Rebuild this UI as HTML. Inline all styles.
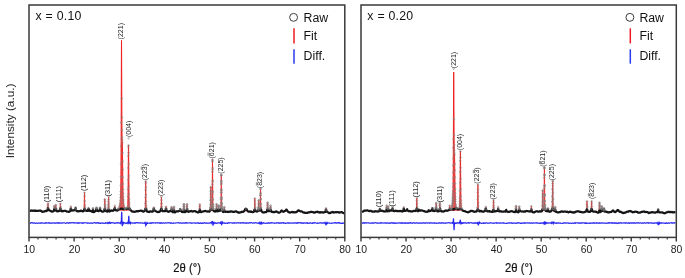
<!DOCTYPE html>
<html><head><meta charset="utf-8"><style>
html,body{margin:0;padding:0;background:#fff;}
body{width:685px;height:278px;overflow:hidden;}
svg{display:block;font-family:"Liberation Sans", sans-serif;will-change:transform;}
</style></head><body>
<svg width="685" height="278" viewBox="0 0 685 278" fill="#222">
<clipPath id="c1"><rect x="29.8" y="5.8" width="314.2" height="230.8"/></clipPath>
<g clip-path="url(#c1)">
<polyline points="47.42,210.5 47.48,210.3 47.54,210.1 47.60,209.7 47.66,209.0 47.72,208.2 47.78,207.1 47.84,205.8 47.90,204.4 47.96,203.5 48.02,203.3 48.08,204.1 48.14,205.3 48.20,206.7 48.26,207.9 48.32,208.8 48.38,209.5 48.44,209.9 48.50,210.2 48.56,210.4" fill="#f04a4a" stroke="#ee2020" stroke-width="0.85"/>
<polyline points="53.84,210.4 53.90,210.1 53.96,209.7 54.02,209.1 54.08,208.3 54.14,207.4 54.20,206.5 54.26,205.9 54.32,205.8 54.38,206.2 54.44,207.1 54.50,208.0 54.56,208.8 54.62,209.4 54.68,209.9 54.74,210.2 54.80,210.4 54.86,210.5" fill="#f04a4a" stroke="#ee2020" stroke-width="0.85"/>
<polyline points="55.22,210.5 55.28,210.4 55.34,210.2 55.40,209.9 55.46,209.5 55.52,208.8 55.58,208.0 55.64,207.0 55.70,206.0 55.76,205.3 55.82,205.2 55.88,205.7 55.94,206.7 56.00,207.7 56.06,208.6 56.12,209.3 56.18,209.8 56.24,210.2 56.30,210.4" fill="#f04a4a" stroke="#ee2020" stroke-width="0.85"/>
<polyline points="59.84,210.5 59.90,210.3 59.96,210.0 60.02,209.5 60.08,208.8 60.14,207.9 60.20,206.7 60.26,205.3 60.32,204.1 60.38,203.3 60.44,203.5 60.50,204.4 60.56,205.8 60.62,207.1 60.68,208.2 60.74,209.1 60.80,209.7 60.86,210.1 60.92,210.4 60.98,210.5" fill="#f04a4a" stroke="#ee2020" stroke-width="0.85"/>
<polyline points="70.34,210.6 70.40,210.3 70.46,210.0 70.52,209.5 70.58,208.8 70.64,208.0 70.70,207.3 70.76,206.7 70.82,206.6 70.88,207.0 70.94,207.8 71.00,208.6 71.06,209.3 71.12,209.8 71.18,210.2 71.24,210.5" fill="#f04a4a" stroke="#ee2020" stroke-width="0.85"/>
<polyline points="75.20,210.5 75.26,210.2 75.32,209.8 75.38,209.2 75.44,208.6 75.50,207.9 75.56,207.5 75.62,207.4 75.68,207.8 75.74,208.4 75.80,209.0 75.86,209.6 75.92,210.1 75.98,210.4" fill="#f04a4a" stroke="#ee2020" stroke-width="0.85"/>
<polyline points="83.60,210.6 83.66,210.5 83.72,210.4 83.78,210.3 83.84,210.1 83.90,209.9 83.96,209.5 84.02,209.0 84.08,208.2 84.14,206.9 84.20,205.0 84.26,202.5 84.32,199.5 84.38,196.2 84.44,193.5 84.50,192.4 84.56,193.5 84.62,196.2 84.68,199.5 84.74,202.5 84.80,205.0 84.86,206.9 84.92,208.2 84.98,209.0 85.04,209.5 85.10,209.9 85.16,210.1 85.22,210.3 85.28,210.4 85.34,210.5 85.40,210.6" fill="#f04a4a" stroke="#ee2020" stroke-width="0.85"/>
<polyline points="88.22,210.5 88.28,210.3 88.34,209.9 88.40,209.4 88.46,208.8 88.52,208.3 88.58,208.0 88.64,208.0 88.70,208.4 88.76,209.0 88.82,209.5 88.88,210.0 88.94,210.4 89.00,210.6" fill="#f04a4a" stroke="#ee2020" stroke-width="0.85"/>
<polyline points="92.66,210.5 92.72,210.2 92.78,209.8 92.84,209.4 92.90,208.9 92.96,208.5 93.02,208.5 93.08,208.8 93.14,209.2 93.20,209.7 93.26,210.1 93.32,210.4" fill="#f04a4a" stroke="#ee2020" stroke-width="0.85"/>
<polyline points="96.14,210.5 96.20,210.2 96.26,209.8 96.32,209.3 96.38,208.8 96.44,208.4 96.50,208.2 96.56,208.4 96.62,208.8 96.68,209.3 96.74,209.8 96.80,210.2 96.86,210.5" fill="#f04a4a" stroke="#ee2020" stroke-width="0.85"/>
<polyline points="99.62,210.5 99.68,210.2 99.74,209.8 99.80,209.2 99.86,208.6 99.92,208.0 99.98,207.7 100.04,207.8 100.10,208.2 100.16,208.8 100.22,209.4 100.28,209.9 100.34,210.3 100.40,210.6" fill="#f04a4a" stroke="#ee2020" stroke-width="0.85"/>
<polyline points="104.06,210.7 104.12,210.6 104.18,210.5 104.24,210.3 104.30,209.9 104.36,209.5 104.42,208.7 104.48,207.6 104.54,206.1 104.60,204.2 104.66,202.1 104.72,200.1 104.78,198.9 104.84,199.2 104.90,200.7 104.96,202.8 105.02,204.9 105.08,206.7 105.14,208.0 105.20,209.0 105.26,209.6 105.32,210.1 105.38,210.3 105.44,210.5 105.50,210.6 105.56,210.7" fill="#f04a4a" stroke="#ee2020" stroke-width="0.85"/>
<polyline points="107.78,210.7 107.84,210.6 107.90,210.5 107.96,210.4 108.02,210.2 108.08,209.9 108.14,209.4 108.20,208.6 108.26,207.5 108.32,205.9 108.38,203.8 108.44,201.3 108.50,198.8 108.56,197.1 108.62,196.8 108.68,198.1 108.74,200.5 108.80,203.0 108.86,205.2 108.92,207.0 108.98,208.3 109.04,209.2 109.10,209.7 109.16,210.1 109.22,210.3 109.28,210.5 109.34,210.6 109.40,210.7" fill="#f04a4a" stroke="#ee2020" stroke-width="0.85"/>
<polyline points="109.52,210.7 109.58,210.7" fill="#f04a4a" stroke="#ee2020" stroke-width="0.85"/>
<polyline points="113.78,210.7 113.84,210.7 113.90,210.7 113.96,210.6 114.02,210.6 114.08,210.5 114.14,210.4 114.20,210.3 114.26,210.1 114.32,209.8 114.38,209.4 114.44,208.8 114.50,208.0 114.56,207.1 114.62,206.3 114.68,205.9 114.74,206.0 114.80,206.5 114.86,207.4 114.92,208.2 114.98,208.9 115.04,209.4 115.10,209.8 115.16,210.1 115.22,210.2 115.28,210.3 115.34,210.4 115.40,210.4 115.46,210.4 115.52,210.4 115.58,210.5 115.64,210.5 115.70,210.5 115.76,210.5 115.82,210.5 115.88,210.5 115.94,210.5 116.00,210.4 116.06,210.4 116.12,210.4 116.18,210.4 116.24,210.4 116.30,210.4 116.36,210.4 116.42,210.4 116.48,210.3 116.54,210.3 116.60,210.3 116.66,210.3 116.72,210.2 116.78,210.2 116.84,210.2 116.90,210.2 116.96,210.1 117.02,210.1 117.08,210.1 117.14,210.1 117.20,210.0 117.50,209.9 117.80,209.6 118.10,209.4 118.40,209.1 118.70,208.7 119.00,208.1 119.06,208.0 119.12,207.9 119.18,207.7 119.24,207.6 119.30,207.4 119.36,207.2 119.42,207.1 119.48,206.9 119.54,206.6 119.60,206.4 119.66,206.2 119.72,205.9 119.78,205.6 119.84,205.3 119.90,205.0 119.96,204.6 120.02,204.2 120.08,203.7 120.14,203.2 120.20,202.7 120.26,202.0 120.32,201.3 120.38,200.5 120.44,199.6 120.50,198.4 120.56,197.1 120.62,195.4 120.68,193.2 120.74,190.3 120.80,186.5 120.86,181.4 120.92,174.7 120.98,166.0 121.04,155.0 121.10,141.5 121.16,125.6 121.22,107.6 121.28,88.4 121.34,69.6 121.40,53.6 121.46,43.1 121.52,40.3 121.58,45.7 121.64,57.3 121.70,72.4 121.76,88.2 121.82,102.9 121.88,115.4 121.94,125.1 122.00,132.0 122.06,136.4 122.12,138.8 122.18,139.9 122.24,140.5 122.30,141.3 122.36,143.0 122.42,145.9 122.48,149.9 122.54,154.8 122.60,160.2 122.66,165.7 122.72,171.1 122.78,176.2 122.84,180.9 122.90,185.1 122.96,188.7 123.02,191.8 123.08,194.4 123.14,196.5 123.20,198.3 123.26,199.8 123.32,201.0 123.38,202.0 123.44,202.8 123.50,203.5 123.56,204.0 123.62,204.5 123.68,204.9 123.74,205.3 123.80,205.7 123.86,206.0 123.92,206.2 123.98,206.5 124.04,206.7 124.34,207.6 124.64,208.3 124.94,208.7 125.24,209.0 125.54,209.2 125.84,209.4 126.14,209.4 126.20,209.4 126.26,209.4 126.32,209.4 126.38,209.4 126.44,209.4 126.50,209.4 126.56,209.4 126.62,209.3 126.68,209.3 126.74,209.2 126.80,209.2 126.86,209.1 126.92,209.0 126.98,209.0 127.04,208.9 127.10,208.7 127.16,208.6 127.22,208.5 127.28,208.3 127.34,208.1 127.40,207.8 127.46,207.5 127.52,207.2 127.58,206.7 127.64,206.2 127.70,205.4 127.76,204.5 127.82,203.1 127.88,201.2 127.94,198.7 128.00,195.2 128.06,190.8 128.12,185.1 128.18,178.4 128.24,170.7 128.30,162.5 128.36,154.6 128.42,148.3 128.48,145.0 128.54,145.7 128.60,150.2 128.66,157.2 128.72,165.3 128.78,173.4 128.84,180.9 128.90,187.3 128.96,192.5 129.02,196.7 129.08,199.8 129.14,202.1 129.20,203.8 129.26,205.1 129.32,206.0 129.38,206.7 129.44,207.2 129.50,207.7 129.56,208.0 129.62,208.3 129.68,208.6 129.74,208.8 129.80,209.0 129.86,209.2 129.92,209.3 129.98,209.4 130.04,209.6 130.10,209.7 130.16,209.8 130.22,209.9 130.28,209.9 130.34,210.0 130.40,210.1 130.46,210.1 130.52,210.2 130.58,210.3 130.64,210.3 130.70,210.4 130.76,210.4 130.82,210.4 130.88,210.5 130.94,210.5 131.00,210.5 131.30,210.7 131.60,210.8" fill="#f04a4a" stroke="#ee2020" stroke-width="1.00"/>
<polyline points="144.56,210.8 144.62,210.8 144.68,210.7 144.74,210.6 144.80,210.5 144.86,210.4 144.92,210.2 144.98,210.0 145.04,209.7 145.10,209.3 145.16,208.7 145.22,207.9 145.28,206.5 145.34,204.4 145.40,201.4 145.46,197.4 145.52,192.5 145.58,187.2 145.64,182.8 145.70,181.0 145.76,182.8 145.82,187.2 145.88,192.5 145.94,197.4 146.00,201.4 146.06,204.4 146.12,206.5 146.18,207.9 146.24,208.7 146.30,209.3 146.36,209.7 146.42,210.0 146.48,210.2 146.54,210.4 146.60,210.5 146.66,210.6 146.72,210.7 146.78,210.8 146.84,210.9" fill="#f04a4a" stroke="#ee2020" stroke-width="0.85"/>
<polyline points="153.38,210.8 153.44,210.6 153.50,210.2 153.56,209.6 153.62,209.0 153.68,208.3 153.74,207.7 153.80,207.5 153.86,207.7 153.92,208.3 153.98,209.0 154.04,209.6 154.10,210.2 154.16,210.6 154.22,210.8" fill="#f04a4a" stroke="#ee2020" stroke-width="0.85"/>
<polyline points="160.64,210.9 160.70,210.8 160.76,210.6 160.82,210.4 160.88,210.1 160.94,209.6 161.00,208.8 161.06,207.7 161.12,206.1 161.18,204.0 161.24,201.5 161.30,199.0 161.36,197.2 161.42,196.9 161.48,198.3 161.54,200.6 161.60,203.2 161.66,205.4 161.72,207.2 161.78,208.5 161.84,209.4 161.90,210.0 161.96,210.3 162.02,210.6 162.08,210.7 162.14,210.8 162.20,210.9" fill="#f04a4a" stroke="#ee2020" stroke-width="0.85"/>
<polyline points="165.56,210.8 165.62,210.5 165.68,210.0 165.74,209.4 165.80,208.6 165.86,207.7 165.92,206.9 165.98,206.4 166.04,206.5 166.10,207.1 166.16,208.0 166.22,208.9 166.28,209.6 166.34,210.2 166.40,210.6 166.46,210.9" fill="#f04a4a" stroke="#ee2020" stroke-width="0.85"/>
<polyline points="171.14,211.0 171.20,210.7 171.26,210.4 171.32,209.9 171.38,209.2 171.44,208.4 171.50,207.7 171.56,207.1 171.62,207.0 171.68,207.4 171.74,208.2 171.80,209.0 171.86,209.7 171.92,210.2 171.98,210.6 172.04,210.9" fill="#f04a4a" stroke="#ee2020" stroke-width="0.85"/>
<polyline points="173.54,211.0 173.60,210.8 173.66,210.4 173.72,209.9 173.78,209.3 173.84,208.6 173.90,207.8 173.96,207.3 174.02,207.2 174.08,207.6 174.14,208.3 174.20,209.1 174.26,209.8 174.32,210.3 174.38,210.7 174.44,210.9" fill="#f04a4a" stroke="#ee2020" stroke-width="0.85"/>
<polyline points="179.96,211.0 180.02,210.8 180.08,210.5 180.14,210.1 180.20,209.7 180.26,209.4 180.32,209.4 180.38,209.6 180.44,210.0 180.50,210.3 180.56,210.7 180.62,210.9" fill="#f04a4a" stroke="#ee2020" stroke-width="0.85"/>
<polyline points="183.38,210.9 183.44,210.7 183.50,210.3 183.56,209.7 183.62,208.9 183.68,207.9 183.74,206.7 183.80,205.4 183.86,204.6 183.92,204.4 183.98,205.1 184.04,206.2 184.10,207.5 184.16,208.6 184.22,209.5 184.28,210.1 184.34,210.6 184.40,210.8 184.46,211.0" fill="#f04a4a" stroke="#ee2020" stroke-width="0.85"/>
<polyline points="186.44,211.0 186.50,210.8 186.56,210.6 186.62,210.1 186.68,209.5 186.74,208.6 186.80,207.5 186.86,206.3 186.92,205.1 186.98,204.4 187.04,204.6 187.10,205.5 187.16,206.7 187.22,207.9 187.28,209.0 187.34,209.7 187.40,210.3 187.46,210.7 187.52,210.9" fill="#f04a4a" stroke="#ee2020" stroke-width="0.85"/>
<polyline points="199.28,211.0 199.34,210.7 199.40,210.3 199.46,209.7 199.52,208.9 199.58,207.8 199.64,206.6 199.70,205.3 199.76,204.4 199.82,204.2 199.88,204.9 199.94,206.1 200.00,207.4 200.06,208.6 200.12,209.5 200.18,210.2 200.24,210.6 200.30,210.9 200.36,211.1" fill="#f04a4a" stroke="#ee2020" stroke-width="0.85"/>
<polyline points="209.54,211.1 209.60,211.1 209.66,211.0 209.72,210.9 209.78,210.9 209.84,210.8 209.90,210.7 209.96,210.6 210.02,210.4 210.08,210.2 210.14,210.0 210.20,209.7 210.26,209.2 210.32,208.5 210.38,207.4 210.44,205.7 210.50,203.3 210.56,200.1 210.62,196.1 210.68,191.9 210.74,188.3 210.80,186.9 210.86,188.2 210.92,191.7 210.98,195.8 211.04,199.7 211.10,202.9 211.16,205.2 211.22,206.7 211.28,207.7 211.34,208.3 211.40,208.6 211.46,208.8 211.52,208.8 211.58,208.8 211.64,208.6 211.70,208.4 211.76,208.1 211.82,207.6 211.88,206.9 211.94,205.8 212.00,204.2 212.06,201.8 212.12,198.2 212.18,193.2 212.24,186.8 212.30,179.0 212.36,170.8 212.42,163.5 212.48,159.4 212.54,160.3 212.60,165.7 212.66,173.6 212.72,181.8 212.78,189.2 212.84,195.2 212.90,199.7 212.96,203.0 213.02,205.2 213.08,206.6 213.14,207.6 213.20,208.3 213.26,208.8 213.32,209.2 213.38,209.5 213.44,209.7 213.50,210.0 213.56,210.1 213.62,210.3 213.68,210.4 213.74,210.5 213.80,210.6 213.86,210.7 213.92,210.8 213.98,210.9 214.04,210.9 214.10,211.0 214.16,211.0 214.22,211.1 214.28,211.1 214.34,211.1 214.40,211.2" fill="#f04a4a" stroke="#ee2020" stroke-width="0.85"/>
<polyline points="215.90,211.1 215.96,211.1 216.02,211.0 216.08,210.8 216.14,210.6 216.20,210.2 216.26,209.7 216.32,208.9 216.38,207.8 216.44,206.6 216.50,205.4 216.56,204.5 216.62,204.3 216.68,205.0 216.74,206.2 216.80,207.4 216.86,208.5 216.92,209.4 216.98,210.1 217.04,210.5 217.10,210.8 217.16,210.9 217.22,211.0 217.28,211.1" fill="#f04a4a" stroke="#ee2020" stroke-width="0.85"/>
<polyline points="218.06,211.1 218.12,211.1 218.18,210.9 218.24,210.7 218.30,210.4 218.36,210.0 218.42,209.4 218.48,208.5 218.54,207.6 218.60,206.6 218.66,205.9 218.72,205.7 218.78,206.3 218.84,207.2 218.90,208.2 218.96,209.1 219.02,209.8 219.08,210.3 219.14,210.6 219.20,210.8 219.26,210.9 219.32,211.0 219.38,211.1 219.44,211.1 219.50,211.1 219.56,211.1 219.62,211.1 219.68,211.1 219.74,211.1 219.80,211.0 219.86,211.0 219.92,211.0 219.98,210.9 220.04,210.9 220.10,210.8 220.16,210.7 220.22,210.6 220.28,210.5 220.34,210.4 220.40,210.2 220.46,210.0 220.52,209.8 220.58,209.5 220.64,209.0 220.70,208.4 220.76,207.5 220.82,206.2 220.88,204.1 220.94,201.3 221.00,197.3 221.06,192.4 221.12,186.7 221.18,180.8 221.24,176.2 221.30,174.4 221.36,176.2 221.42,180.9 221.48,186.7 221.54,192.4 221.60,197.4 221.66,201.3 221.72,204.2 221.78,206.2 221.84,207.5 221.90,208.5 221.96,209.1 222.02,209.5 222.08,209.8 222.14,210.1 222.20,210.3 222.26,210.4 222.32,210.6 222.38,210.7 222.44,210.8 222.50,210.9 222.56,211.0 222.62,211.0 222.68,211.1 222.74,211.1 222.80,211.2" fill="#f04a4a" stroke="#ee2020" stroke-width="0.85"/>
<polyline points="223.76,211.2 223.82,211.1 223.88,210.9 223.94,210.6 224.00,210.2 224.06,209.7 224.12,209.0 224.18,208.3 224.24,207.7 224.30,207.4 224.36,207.7 224.42,208.3 224.48,209.0 224.54,209.7 224.60,210.3 224.66,210.7 224.72,211.0 224.78,211.2" fill="#f04a4a" stroke="#ee2020" stroke-width="0.85"/>
<polyline points="244.16,211.2 244.22,211.2 244.28,211.1 244.34,211.1 244.40,211.0 244.46,211.0 244.52,210.9 244.58,210.8 244.64,210.8 244.70,210.7 244.76,210.6 244.82,210.5 244.88,210.4 244.94,210.3 245.00,210.2 245.06,210.1 245.12,210.0 245.18,209.9 245.24,209.8 245.30,209.7 245.36,209.6 245.42,209.5 245.48,209.5 245.54,209.4 245.60,209.3 245.66,209.2 245.72,209.1 245.78,209.1 245.84,209.0 245.90,209.0 245.96,209.0 246.02,209.0 246.08,209.0 246.14,209.0 246.20,209.1 246.26,209.1 246.32,209.2 246.38,209.3 246.44,209.3 246.50,209.4 246.56,209.5 246.62,209.6 246.68,209.7 246.74,209.8 246.80,209.9 246.86,210.0 246.92,210.1 246.98,210.2 247.04,210.3 247.10,210.4 247.16,210.5 247.22,210.6 247.28,210.7 247.34,210.7 247.40,210.8 247.46,210.9 247.52,211.0 247.58,211.0 247.64,211.1 247.70,211.1 247.76,211.2 247.82,211.2 247.88,211.3" fill="#f04a4a" stroke="#ee2020" stroke-width="0.85"/>
<polyline points="254.00,211.3 254.06,211.2 254.12,211.1 254.18,211.0 254.24,210.7 254.30,210.4 254.36,209.9 254.42,209.1 254.48,207.9 254.54,206.2 254.60,204.1 254.66,201.8 254.72,199.6 254.78,198.3 254.84,198.6 254.90,200.3 254.96,202.6 255.02,204.9 255.08,206.8 255.14,208.3 255.20,209.4 255.26,210.1 255.32,210.5 255.38,210.8 255.44,211.0 255.50,211.1 255.56,211.2 255.62,211.3" fill="#f04a4a" stroke="#ee2020" stroke-width="0.85"/>
<polyline points="257.90,211.3 257.96,211.3 258.02,211.2 258.08,211.0 258.14,210.9 258.20,210.6 258.26,210.1 258.32,209.4 258.38,208.4 258.44,207.1 258.50,205.3 258.56,203.3 258.62,201.5 258.68,200.5 258.74,200.7 258.80,202.0 258.86,203.9 258.92,205.8 258.98,207.5 259.04,208.7 259.10,209.5 259.16,210.1 259.22,210.4 259.28,210.6 259.34,210.8 259.40,210.8 259.46,210.8 259.52,210.8 259.58,210.8 259.64,210.8 259.70,210.7 259.76,210.6 259.82,210.4 259.88,210.2 259.94,209.8 260.00,209.3 260.06,208.4 260.12,207.0 260.18,205.0 260.24,202.2 260.30,198.6 260.36,194.6 260.42,190.9 260.48,188.7 260.54,189.2 260.60,192.0 260.66,196.0 260.72,199.9 260.78,203.3 260.84,205.8 260.90,207.6 260.96,208.8 261.02,209.6 261.08,210.1 261.14,210.4 261.20,210.7 261.26,210.9 261.32,211.0 261.38,211.1 261.44,211.2 261.50,211.3 261.56,211.4" fill="#f04a4a" stroke="#ee2020" stroke-width="0.85"/>
<polyline points="266.96,211.4 267.02,211.2 267.08,211.0 267.14,210.7 267.20,210.2 267.26,209.5 267.32,208.5 267.38,207.1 267.44,205.5 267.50,204.0 267.56,202.8 267.62,202.6 267.68,203.5 267.74,205.0 267.80,206.6 267.86,208.1 267.92,209.2 267.98,210.0 268.04,210.6 268.10,210.9 268.16,211.2 268.22,211.3" fill="#f04a4a" stroke="#ee2020" stroke-width="0.85"/>
<polyline points="270.02,211.2 270.08,211.0 270.14,210.6 270.20,210.0 270.26,209.2 270.32,208.2 270.38,207.2 270.44,206.3 270.50,206.0 270.56,206.3 270.62,207.2 270.68,208.2 270.74,209.2 270.80,210.0 270.86,210.6 270.92,211.0 270.98,211.3" fill="#f04a4a" stroke="#ee2020" stroke-width="0.85"/>
<polyline points="280.28,211.4 280.34,211.4 280.40,211.3 280.46,211.2 280.52,211.2 280.58,211.1 280.64,211.0 280.70,211.0 280.76,210.9 280.82,210.8 280.88,210.8 280.94,210.7 281.00,210.6 281.06,210.6 281.12,210.5 281.18,210.5 281.24,210.4 281.30,210.4 281.36,210.4 281.42,210.4 281.48,210.4 281.54,210.4 281.60,210.4 281.66,210.5 281.72,210.5 281.78,210.6 281.84,210.7 281.90,210.7 281.96,210.8 282.02,210.9 282.08,210.9 282.14,211.0 282.20,211.1 282.26,211.1 282.32,211.2 282.38,211.3 282.44,211.3 282.50,211.4 282.56,211.4" fill="#f04a4a" stroke="#ee2020" stroke-width="0.85"/>
<polyline points="285.26,211.4 285.32,211.4 285.38,211.3 285.44,211.2 285.50,211.2 285.56,211.1 285.62,211.1 285.68,211.0 285.74,210.9 285.80,210.8 285.86,210.8 285.92,210.7 285.98,210.6 286.04,210.6 286.10,210.5 286.16,210.5 286.22,210.4 286.28,210.4 286.34,210.4 286.40,210.4 286.46,210.4 286.52,210.4 286.58,210.4 286.64,210.5 286.70,210.5 286.76,210.6 286.82,210.6 286.88,210.7 286.94,210.8 287.00,210.9 287.06,210.9 287.12,211.0 287.18,211.1 287.24,211.1 287.30,211.2 287.36,211.3 287.42,211.3 287.48,211.4 287.54,211.4" fill="#f04a4a" stroke="#ee2020" stroke-width="0.85"/>
<polyline points="297.14,211.5 297.20,211.4 297.26,211.4 297.32,211.3 297.38,211.3 297.44,211.2 297.50,211.2 297.56,211.1 297.62,211.1 297.68,211.0 297.74,211.0 297.80,210.9 297.86,210.9 297.92,210.8 297.98,210.7 298.04,210.7 298.10,210.7 298.16,210.6 298.22,210.6 298.28,210.5 298.34,210.5 298.40,210.5 298.46,210.5 298.52,210.5 298.58,210.5 298.64,210.5 298.70,210.5 298.76,210.6 298.82,210.6 298.88,210.6 298.94,210.7 299.00,210.7 299.06,210.8 299.12,210.8 299.18,210.9 299.24,211.0 299.30,211.0 299.36,211.1 299.42,211.1 299.48,211.2 299.54,211.2 299.60,211.3 299.66,211.3 299.72,211.4 299.78,211.4 299.84,211.5" fill="#f04a4a" stroke="#ee2020" stroke-width="0.85"/>
<polyline points="325.58,211.6 325.64,211.3 325.70,210.9 325.76,210.4 325.82,209.7 325.88,209.0 325.94,208.4 326.00,208.2 326.06,208.4 326.12,209.0 326.18,209.7 326.24,210.4 326.30,210.9 326.36,211.3 326.42,211.6" fill="#f04a4a" stroke="#ee2020" stroke-width="0.85"/>
<polyline points="29.00,211.29 29.35,211.15 29.70,210.99 30.05,210.95 30.40,211.00 30.75,210.69 31.10,210.46 31.45,210.70 31.80,210.69 32.15,210.86 32.50,210.59 32.85,210.60 33.20,210.73 33.55,210.56 33.90,210.78 34.25,210.93 34.60,210.62 34.95,210.41 35.30,210.55 35.65,210.90 36.00,210.93 36.35,210.90 36.70,211.00 37.05,210.88 37.40,210.87 37.75,210.94 38.10,210.98 38.45,210.84 38.80,210.70 39.15,210.57 39.50,210.59 39.85,210.54 40.20,210.41 40.55,210.76 40.90,210.95 41.25,211.18 41.60,211.17 41.95,211.58 42.30,211.83 42.65,211.62 43.00,211.53 43.35,211.61 43.70,211.60 44.05,211.65 44.40,211.38 44.75,211.35 45.10,211.23 45.45,210.95 45.80,210.89 46.15,210.99 46.50,211.04 46.85,210.87 47.20,210.68 47.55,209.60 47.90,208.03 48.25,208.18 48.60,210.03 48.95,210.17 49.30,210.33 49.65,210.54 50.00,210.72 50.35,210.76 50.70,210.89 51.05,211.09 51.40,211.42 51.75,211.57 52.10,211.63 52.45,211.70 52.80,211.47 53.15,211.23 53.50,211.24 53.85,210.87 54.20,209.04 54.55,208.88 54.90,210.44 55.25,210.28 55.60,208.67 55.95,208.76 56.30,210.55 56.65,211.15 57.00,211.08 57.35,211.14 57.70,211.38 58.05,211.34 58.40,211.21 58.75,210.97 59.10,210.88 59.45,210.93 59.80,210.24 60.15,208.45 60.50,208.58 60.85,210.15 61.20,210.99 61.55,211.26 61.90,211.28 62.25,211.29 62.60,211.21 62.95,210.93 63.30,211.10 63.65,211.05 64.00,210.81 64.35,210.78 64.70,210.77 65.05,210.74 65.40,210.77 65.75,210.96 66.10,211.21 66.45,211.45 66.80,211.59 67.15,211.50 67.50,211.53 67.85,211.50 68.20,211.63 68.55,211.80 68.90,211.83 69.25,211.77 69.60,211.67 69.95,211.23 70.30,210.90 70.65,208.81 71.00,208.46 71.35,210.27 71.70,210.31 72.05,210.60 72.40,210.54 72.75,210.41 73.10,210.54 73.45,210.48 73.80,210.28 74.15,210.16 74.50,210.25 74.85,210.10 75.20,209.64 75.55,208.16 75.90,209.56 76.25,210.69 76.60,211.02 76.95,211.01 77.30,211.18 77.65,211.30 78.00,211.24 78.35,211.10 78.70,211.34 79.05,211.28 79.40,211.06 79.75,211.07 80.10,211.18 80.45,210.90 80.80,210.72 81.15,210.69 81.50,210.99 81.85,210.96 82.20,211.22 82.55,211.38 82.90,211.38 83.25,211.11 83.60,211.05 83.95,210.08 84.30,209.05 84.65,208.75 85.00,209.19 85.35,210.38 85.70,210.68 86.05,210.69 86.40,210.83 86.75,210.64 87.10,210.61 87.45,210.89 87.80,211.00 88.15,210.50 88.50,208.60 88.85,209.44 89.20,210.79 89.55,210.96 89.90,210.90 90.25,210.82 90.60,210.69 90.95,211.10 91.30,211.05 91.65,211.46 92.00,211.85 92.35,211.90 92.70,211.05 93.05,209.71 93.40,211.86 93.75,212.17 94.10,212.02 94.45,211.76 94.80,211.49 95.15,211.19 95.50,211.16 95.85,210.94 96.20,209.93 96.55,208.30 96.90,210.38 97.25,210.75 97.60,210.89 97.95,210.85 98.30,211.07 98.65,211.21 99.00,210.82 99.35,210.52 99.70,209.48 100.05,208.48 100.40,210.44 100.75,210.85 101.10,210.85 101.45,211.09 101.80,211.37 102.15,211.62 102.50,211.51 102.85,211.66 103.20,211.61 103.55,211.39 103.90,211.30 104.25,210.31 104.60,208.90 104.95,208.59 105.30,209.55 105.65,210.72 106.00,210.85 106.35,211.20 106.70,211.40 107.05,211.68 107.40,211.60 107.75,211.34 108.10,210.25 108.45,209.56 108.80,209.53 109.15,210.84 109.50,211.61 109.85,211.20 110.20,211.14 110.55,210.83 110.90,210.55 111.25,210.36 111.60,210.60 111.95,210.75 112.30,210.86 112.65,210.68 113.00,210.65 113.35,210.67 113.70,210.41 114.05,210.16 114.40,208.58 114.75,208.04 115.10,208.97 115.45,209.93 115.80,210.13 116.15,210.46 116.50,210.48 116.85,210.37 117.20,210.53 117.55,210.60 117.90,210.11 118.25,209.91 118.60,209.29 118.95,209.06 119.30,209.22 119.65,208.87 120.00,208.68 120.35,208.91 120.70,208.81 121.05,208.60 121.40,208.50 121.75,208.50 122.10,208.77 122.45,208.67 122.80,209.00 123.15,208.96 123.50,209.19 123.85,209.31 124.20,209.05 124.55,208.81 124.90,208.73 125.25,208.61 125.60,208.95 125.95,208.87 126.30,208.73 126.65,209.00 127.00,208.58 127.35,208.69 127.70,208.70 128.05,208.61 128.40,208.39 128.75,208.62 129.10,208.80 129.45,208.92 129.80,208.66 130.15,209.27 130.50,209.82 130.85,210.43 131.20,210.71 131.55,211.06 131.90,211.37 132.25,211.44 132.60,211.66 132.95,211.70 133.30,211.68 133.65,211.72 134.00,211.64 134.35,211.87 134.70,211.72 135.05,211.67 135.40,211.60 135.75,211.68 136.10,211.47 136.45,211.27 136.80,211.15 137.15,211.05 137.50,211.25 137.85,211.41 138.20,211.22 138.55,211.06 138.90,211.03 139.25,211.01 139.60,211.00 139.95,210.84 140.30,210.63 140.65,210.65 141.00,210.61 141.35,210.87 141.70,210.88 142.05,210.92 142.40,211.24 142.75,211.30 143.10,211.55 143.45,211.54 143.80,211.64 144.15,211.24 144.50,210.94 144.85,210.48 145.20,208.77 145.55,208.99 145.90,208.80 146.25,209.00 146.60,210.82 146.95,211.48 147.30,211.61 147.65,211.57 148.00,211.72 148.35,212.01 148.70,211.88 149.05,212.03 149.40,211.72 149.75,211.83 150.10,211.44 150.45,211.27 150.80,211.44 151.15,211.51 151.50,211.63 151.85,211.68 152.20,211.67 152.55,211.62 152.90,211.26 153.25,210.93 153.60,208.74 153.95,208.61 154.30,210.66 154.65,210.75 155.00,210.59 155.35,210.94 155.70,211.18 156.05,211.30 156.40,211.45 156.75,211.79 157.10,211.91 157.45,212.00 157.80,212.05 158.15,212.03 158.50,211.86 158.85,211.99 159.20,211.89 159.55,211.83 159.90,211.44 160.25,211.18 160.60,210.66 160.95,209.04 161.30,208.53 161.65,208.79 162.00,210.23 162.35,210.86 162.70,211.18 163.05,211.16 163.40,210.99 163.75,211.08 164.10,211.10 164.45,211.16 164.80,211.06 165.15,211.04 165.50,210.77 165.85,208.70 166.20,208.75 166.55,210.85 166.90,211.08 167.25,211.24 167.60,211.41 167.95,211.70 168.30,211.88 168.65,211.66 169.00,211.64 169.35,211.29 169.70,211.01 170.05,211.01 170.40,211.20 170.75,210.96 171.10,210.87 171.45,209.19 171.80,209.20 172.15,211.51 172.50,212.04 172.85,212.09 173.20,212.19 173.55,211.90 173.90,210.02 174.25,210.63 174.60,212.25 174.95,212.42 175.30,212.24 175.65,211.86 176.00,211.60 176.35,211.38 176.70,211.39 177.05,211.50 177.40,211.22 177.75,211.32 178.10,211.40 178.45,211.24 178.80,211.17 179.15,210.91 179.50,210.96 179.85,210.46 180.20,209.16 180.55,210.25 180.90,211.15 181.25,211.19 181.60,211.57 181.95,211.92 182.30,211.80 182.65,212.03 183.00,212.15 183.35,211.83 183.70,210.01 184.05,209.86 184.40,211.62 184.75,212.16 185.10,211.97 185.45,211.96 185.80,211.73 186.15,211.35 186.50,210.75 186.85,208.93 187.20,209.25 187.55,211.41 187.90,211.61 188.25,211.81 188.60,211.81 188.95,211.62 189.30,211.53 189.65,211.40 190.00,211.53 190.35,211.23 190.70,211.10 191.05,211.14 191.40,210.97 191.75,211.17 192.10,211.32 192.45,211.55 192.80,211.41 193.15,211.32 193.50,211.35 193.85,211.20 194.20,211.22 194.55,211.04 194.90,211.12 195.25,211.25 195.60,211.39 195.95,211.63 196.30,211.67 196.65,211.74 197.00,212.05 197.35,212.29 197.70,212.41 198.05,212.41 198.40,212.33 198.75,212.09 199.10,212.07 199.45,210.36 199.80,209.76 200.15,210.31 200.50,211.86 200.85,212.00 201.20,212.13 201.55,211.79 201.90,211.72 202.25,211.71 202.60,211.57 202.95,211.56 203.30,211.45 203.65,211.44 204.00,211.13 204.35,211.10 204.70,211.06 205.05,210.96 205.40,210.94 205.75,211.14 206.10,211.28 206.45,211.34 206.80,211.51 207.15,211.54 207.50,211.50 207.85,211.37 208.20,211.38 208.55,211.50 208.90,211.66 209.25,211.64 209.60,211.28 209.95,210.91 210.30,209.38 210.65,209.44 211.00,209.29 211.35,209.39 211.70,209.64 212.05,209.54 212.40,209.44 212.75,209.63 213.10,209.74 213.45,210.26 213.80,210.89 214.15,211.26 214.50,211.43 214.85,211.45 215.20,211.62 215.55,211.53 215.90,211.36 216.25,210.06 216.60,209.56 216.95,209.92 217.30,211.33 217.65,211.43 218.00,211.30 218.35,210.14 218.70,209.14 219.05,209.83 219.40,210.79 219.75,210.88 220.10,210.61 220.45,209.92 220.80,209.18 221.15,209.29 221.50,209.35 221.85,209.34 222.20,210.35 222.55,211.30 222.90,211.91 223.25,212.12 223.60,211.96 223.95,211.40 224.30,210.06 224.65,211.29 225.00,211.77 225.35,211.83 225.70,211.92 226.05,211.81 226.40,211.70 226.75,211.78 227.10,211.55 227.45,211.63 227.80,211.93 228.15,212.03 228.50,211.94 228.85,212.00 229.20,211.97 229.55,211.72 229.90,211.51 230.25,211.67 230.60,211.49 230.95,211.27 231.30,211.51 231.65,211.56 232.00,211.56 232.35,211.65 232.70,211.85 233.05,211.71 233.40,211.83 233.75,211.92 234.10,211.98 234.45,211.73 234.80,211.67 235.15,211.43 235.50,211.42 235.85,211.25 236.20,211.47 236.55,211.75 236.90,211.75 237.25,211.77 237.60,212.21 237.95,212.44 238.30,212.71 238.65,212.49 239.00,212.73 239.35,212.73 239.70,212.52 240.05,212.37 240.40,212.37 240.75,212.35 241.10,212.01 241.45,211.96 241.80,211.69 242.15,211.88 242.50,211.75 242.85,211.86 243.20,211.81 243.55,211.64 243.90,211.23 244.25,210.89 244.60,210.24 244.95,209.52 245.30,209.05 245.65,208.64 246.00,208.82 246.35,208.76 246.70,209.38 247.05,210.21 247.40,210.75 247.75,211.09 248.10,211.47 248.45,211.77 248.80,211.74 249.15,211.72 249.50,211.59 249.85,211.71 250.20,211.90 250.55,211.69 250.90,211.43 251.25,211.58 251.60,211.78 251.95,212.03 252.30,212.08 252.65,212.01 253.00,212.21 253.35,211.97 253.70,211.98 254.05,211.45 254.40,209.59 254.75,209.56 255.10,209.45 255.45,210.84 255.80,211.15 256.15,211.47 256.50,211.49 256.85,211.54 257.20,211.38 257.55,211.44 257.90,211.12 258.25,210.06 258.60,209.47 258.95,209.60 259.30,210.43 259.65,210.54 260.00,209.27 260.35,209.03 260.70,208.90 261.05,209.37 261.40,210.90 261.75,211.27 262.10,211.76 262.45,212.10 262.80,212.10 263.15,212.51 263.50,212.37 263.85,212.33 264.20,212.51 264.55,212.30 264.90,212.25 265.25,212.03 265.60,211.98 265.95,212.08 266.30,212.15 266.65,211.67 267.00,211.04 267.35,209.46 267.70,209.23 268.05,210.33 268.40,211.11 268.75,211.15 269.10,211.04 269.45,211.16 269.80,211.16 270.15,210.08 270.50,209.22 270.85,210.23 271.20,211.29 271.55,211.55 271.90,211.90 272.25,212.03 272.60,211.96 272.95,211.83 273.30,212.18 273.65,212.25 274.00,212.15 274.35,212.16 274.70,212.10 275.05,212.00 275.40,211.66 275.75,211.56 276.10,211.52 276.45,211.43 276.80,211.74 277.15,211.81 277.50,212.04 277.85,212.28 278.20,212.50 278.55,212.66 278.90,212.77 279.25,212.56 279.60,212.68 279.95,212.22 280.30,212.08 280.65,211.73 281.00,211.30 281.35,210.63 281.70,210.46 282.05,210.98 282.40,211.29 282.75,211.46 283.10,211.84 283.45,211.59 283.80,211.58 284.15,211.47 284.50,211.15 284.85,210.94 285.20,210.80 285.55,210.61 285.90,209.90 286.25,209.66 286.60,209.59 286.95,210.30 287.30,210.70 287.65,211.06 288.00,211.51 288.35,212.01 288.70,212.15 289.05,212.14 289.40,212.42 289.75,212.59 290.10,212.69 290.45,212.44 290.80,212.29 291.15,212.07 291.50,212.06 291.85,211.95 292.20,211.90 292.55,212.11 292.90,212.37 293.25,212.39 293.60,212.16 293.95,212.25 294.30,212.18 294.65,212.36 295.00,212.32 295.35,212.32 295.70,212.22 296.05,212.04 296.40,212.05 296.75,211.98 297.10,211.58 297.45,211.12 297.80,210.77 298.15,210.55 298.50,210.25 298.85,210.34 299.20,210.68 299.55,210.73 299.90,211.15 300.25,211.35 300.60,211.31 300.95,211.26 301.30,211.28 301.65,211.33 302.00,211.64 302.35,211.83 302.70,212.05 303.05,212.08 303.40,212.53 303.75,212.58 304.10,212.62 304.45,212.48 304.80,212.80 305.15,212.74 305.50,212.86 305.85,212.92 306.20,212.96 306.55,212.90 306.90,212.90 307.25,212.90 307.60,212.85 307.95,212.46 308.30,212.36 308.65,212.29 309.00,212.42 309.35,212.37 309.70,212.26 310.05,212.17 310.40,211.90 310.75,212.00 311.10,211.95 311.45,211.82 311.80,211.82 312.15,212.14 312.50,212.21 312.85,212.13 313.20,212.10 313.55,212.36 313.90,212.48 314.25,212.71 314.60,212.48 314.95,212.38 315.30,212.42 315.65,212.08 316.00,211.84 316.35,211.88 316.70,211.80 317.05,211.69 317.40,211.74 317.75,212.00 318.10,212.18 318.45,212.11 318.80,212.07 319.15,212.41 319.50,212.54 319.85,212.36 320.20,212.54 320.55,212.22 320.90,212.13 321.25,212.29 321.60,212.33 321.95,212.16 322.30,212.34 322.65,212.34 323.00,212.47 323.35,212.57 323.70,212.38 324.05,212.33 324.40,212.17 324.75,212.20 325.10,212.07 325.45,211.75 325.80,209.78 326.15,209.66 326.50,211.47 326.85,211.61 327.20,211.92 327.55,212.21 327.90,212.37 328.25,212.53 328.60,212.64 328.95,212.97 329.30,213.16 329.65,213.16 330.00,212.85 330.35,212.97 330.70,212.82 331.05,212.54 331.40,212.37 331.75,212.42 332.10,212.13 332.45,211.98 332.80,211.96 333.15,212.25 333.50,212.39 333.85,212.60 334.20,212.51 334.55,212.43 334.90,212.33 335.25,212.21 335.60,212.11 335.95,212.17 336.30,212.30 336.65,212.15 337.00,212.19 337.35,212.10 337.70,212.07 338.05,212.18 338.40,212.31 338.75,212.39 339.10,212.64 339.45,212.38 339.80,212.38 340.15,212.52 340.50,212.46 340.85,212.31 341.20,212.10 341.55,211.99 341.90,212.22 342.25,212.44 342.60,212.54 342.95,212.80 343.30,213.06 343.65,213.24 344.00,213.16 344.35,213.13 344.70,213.25" fill="none" stroke="#141414" stroke-width="2.2" stroke-linejoin="round"/>
<g fill="none" stroke="#858585" stroke-width="0.55"><circle cx="48.03" cy="203.38" r="0.85"/><circle cx="47.85" cy="205.52" r="0.85"/><circle cx="47.76" cy="207.68" r="0.85"/><circle cx="55.77" cy="205.40" r="0.85"/><circle cx="54.42" cy="206.85" r="0.85"/><circle cx="56.04" cy="208.54" r="0.85"/><circle cx="55.83" cy="205.02" r="0.85"/><circle cx="54.30" cy="206.09" r="0.85"/><circle cx="54.12" cy="207.90" r="0.85"/><circle cx="56.01" cy="208.22" r="0.85"/><circle cx="60.43" cy="203.80" r="0.85"/><circle cx="60.61" cy="206.92" r="0.85"/><circle cx="60.07" cy="209.13" r="0.85"/><circle cx="70.74" cy="206.54" r="0.85"/><circle cx="70.65" cy="208.29" r="0.85"/><circle cx="75.63" cy="207.27" r="0.85"/><circle cx="75.81" cy="209.37" r="0.85"/><circle cx="84.53" cy="192.81" r="0.85"/><circle cx="84.62" cy="196.04" r="0.85"/><circle cx="84.71" cy="201.06" r="0.85"/><circle cx="84.80" cy="205.35" r="0.85"/><circle cx="84.89" cy="207.27" r="0.85"/><circle cx="84.98" cy="209.28" r="0.85"/><circle cx="88.54" cy="208.06" r="0.85"/><circle cx="96.45" cy="208.13" r="0.85"/><circle cx="93.03" cy="208.45" r="0.85"/><circle cx="96.53" cy="207.83" r="0.85"/><circle cx="100.04" cy="208.14" r="0.85"/><circle cx="93.02" cy="208.27" r="0.85"/><circle cx="100.03" cy="207.54" r="0.85"/><circle cx="96.52" cy="208.15" r="0.85"/><circle cx="104.83" cy="199.42" r="0.85"/><circle cx="104.92" cy="201.40" r="0.85"/><circle cx="108.43" cy="201.51" r="0.85"/><circle cx="105.01" cy="204.66" r="0.85"/><circle cx="108.34" cy="205.05" r="0.85"/><circle cx="105.10" cy="206.91" r="0.85"/><circle cx="108.25" cy="207.87" r="0.85"/><circle cx="105.19" cy="208.80" r="0.85"/><circle cx="108.63" cy="196.54" r="0.85"/><circle cx="108.72" cy="199.49" r="0.85"/><circle cx="108.81" cy="203.56" r="0.85"/><circle cx="105.03" cy="205.12" r="0.85"/><circle cx="108.90" cy="206.60" r="0.85"/><circle cx="105.12" cy="207.62" r="0.85"/><circle cx="108.99" cy="208.72" r="0.85"/><circle cx="114.73" cy="205.76" r="0.85"/><circle cx="114.91" cy="207.79" r="0.85"/><circle cx="118.15" cy="209.01" r="0.85"/><circle cx="121.80" cy="98.55" r="0.85"/><circle cx="121.89" cy="117.28" r="0.85"/><circle cx="121.17" cy="122.66" r="0.85"/><circle cx="121.98" cy="129.79" r="0.85"/><circle cx="122.07" cy="137.08" r="0.85"/><circle cx="122.16" cy="139.47" r="0.85"/><circle cx="122.34" cy="142.20" r="0.85"/><circle cx="121.08" cy="146.04" r="0.85"/><circle cx="122.52" cy="152.96" r="0.85"/><circle cx="122.61" cy="161.33" r="0.85"/><circle cx="120.99" cy="163.99" r="0.85"/><circle cx="122.70" cy="169.48" r="0.85"/><circle cx="120.90" cy="176.80" r="0.85"/><circle cx="122.79" cy="177.33" r="0.85"/><circle cx="122.88" cy="183.82" r="0.85"/><circle cx="120.81" cy="185.56" r="0.85"/><circle cx="122.97" cy="189.53" r="0.85"/><circle cx="120.72" cy="191.20" r="0.85"/><circle cx="123.06" cy="193.49" r="0.85"/><circle cx="120.63" cy="194.72" r="0.85"/><circle cx="123.15" cy="197.01" r="0.85"/><circle cx="120.54" cy="197.73" r="0.85"/><circle cx="123.24" cy="199.43" r="0.85"/><circle cx="120.36" cy="200.42" r="0.85"/><circle cx="123.33" cy="201.19" r="0.85"/><circle cx="120.18" cy="203.07" r="0.85"/><circle cx="123.51" cy="203.58" r="0.85"/><circle cx="119.91" cy="204.77" r="0.85"/><circle cx="123.69" cy="205.33" r="0.85"/><circle cx="119.55" cy="206.48" r="0.85"/><circle cx="124.23" cy="207.11" r="0.85"/><circle cx="118.83" cy="208.05" r="0.85"/><circle cx="125.04" cy="208.72" r="0.85"/><circle cx="128.53" cy="145.30" r="0.85"/><circle cx="128.44" cy="147.12" r="0.85"/><circle cx="128.62" cy="152.50" r="0.85"/><circle cx="128.35" cy="155.87" r="0.85"/><circle cx="128.71" cy="163.98" r="0.85"/><circle cx="128.26" cy="167.85" r="0.85"/><circle cx="128.80" cy="175.93" r="0.85"/><circle cx="128.17" cy="179.69" r="0.85"/><circle cx="128.89" cy="186.63" r="0.85"/><circle cx="128.08" cy="189.35" r="0.85"/><circle cx="128.98" cy="193.96" r="0.85"/><circle cx="127.99" cy="196.24" r="0.85"/><circle cx="129.07" cy="199.43" r="0.85"/><circle cx="129.16" cy="202.41" r="0.85"/><circle cx="129.25" cy="204.88" r="0.85"/><circle cx="127.63" cy="206.42" r="0.85"/><circle cx="129.43" cy="207.31" r="0.85"/><circle cx="127.27" cy="208.26" r="0.85"/><circle cx="124.93" cy="208.73" r="0.85"/><circle cx="129.88" cy="209.22" r="0.85"/><circle cx="145.73" cy="181.26" r="0.85"/><circle cx="145.64" cy="183.03" r="0.85"/><circle cx="145.82" cy="187.41" r="0.85"/><circle cx="145.55" cy="190.03" r="0.85"/><circle cx="145.91" cy="194.81" r="0.85"/><circle cx="145.46" cy="197.53" r="0.85"/><circle cx="146.00" cy="201.49" r="0.85"/><circle cx="145.37" cy="203.40" r="0.85"/><circle cx="146.09" cy="205.47" r="0.85"/><circle cx="146.18" cy="207.60" r="0.85"/><circle cx="145.10" cy="209.20" r="0.85"/><circle cx="153.74" cy="207.56" r="0.85"/><circle cx="154.01" cy="209.45" r="0.85"/><circle cx="161.43" cy="196.85" r="0.85"/><circle cx="161.52" cy="200.03" r="0.85"/><circle cx="161.61" cy="203.53" r="0.85"/><circle cx="161.70" cy="206.84" r="0.85"/><circle cx="161.79" cy="208.79" r="0.85"/><circle cx="166.03" cy="206.77" r="0.85"/><circle cx="166.21" cy="208.87" r="0.85"/><circle cx="173.97" cy="206.98" r="0.85"/><circle cx="171.54" cy="207.41" r="0.85"/><circle cx="173.79" cy="209.10" r="0.85"/><circle cx="171.81" cy="209.39" r="0.85"/><circle cx="174.03" cy="206.99" r="0.85"/><circle cx="171.60" cy="207.20" r="0.85"/><circle cx="171.42" cy="209.07" r="0.85"/><circle cx="174.21" cy="209.23" r="0.85"/><circle cx="183.93" cy="204.10" r="0.85"/><circle cx="183.75" cy="206.36" r="0.85"/><circle cx="180.24" cy="209.56" r="0.85"/><circle cx="183.57" cy="209.89" r="0.85"/><circle cx="183.93" cy="204.31" r="0.85"/><circle cx="186.99" cy="204.50" r="0.85"/><circle cx="183.75" cy="206.60" r="0.85"/><circle cx="186.81" cy="206.92" r="0.85"/><circle cx="183.66" cy="208.48" r="0.85"/><circle cx="187.26" cy="208.66" r="0.85"/><circle cx="180.33" cy="209.07" r="0.85"/><circle cx="187.03" cy="204.23" r="0.85"/><circle cx="183.88" cy="204.81" r="0.85"/><circle cx="184.06" cy="206.80" r="0.85"/><circle cx="186.85" cy="206.82" r="0.85"/><circle cx="183.61" cy="209.00" r="0.85"/><circle cx="187.30" cy="209.19" r="0.85"/><circle cx="199.83" cy="204.46" r="0.85"/><circle cx="199.65" cy="206.54" r="0.85"/><circle cx="199.56" cy="208.58" r="0.85"/><circle cx="212.54" cy="160.56" r="0.85"/><circle cx="212.63" cy="169.38" r="0.85"/><circle cx="212.72" cy="181.55" r="0.85"/><circle cx="210.83" cy="187.61" r="0.85"/><circle cx="210.92" cy="191.49" r="0.85"/><circle cx="212.81" cy="192.46" r="0.85"/><circle cx="210.65" cy="194.08" r="0.85"/><circle cx="211.01" cy="197.47" r="0.85"/><circle cx="212.90" cy="200.02" r="0.85"/><circle cx="210.56" cy="200.12" r="0.85"/><circle cx="211.10" cy="203.23" r="0.85"/><circle cx="212.99" cy="204.39" r="0.85"/><circle cx="211.19" cy="205.89" r="0.85"/><circle cx="213.08" cy="206.73" r="0.85"/><circle cx="210.38" cy="207.51" r="0.85"/><circle cx="213.26" cy="208.68" r="0.85"/><circle cx="211.46" cy="208.84" r="0.85"/><circle cx="212.53" cy="159.46" r="0.85"/><circle cx="212.44" cy="161.69" r="0.85"/><circle cx="212.62" cy="167.98" r="0.85"/><circle cx="212.35" cy="171.83" r="0.85"/><circle cx="212.71" cy="180.40" r="0.85"/><circle cx="212.26" cy="184.37" r="0.85"/><circle cx="210.82" cy="187.27" r="0.85"/><circle cx="210.91" cy="191.07" r="0.85"/><circle cx="212.80" cy="191.21" r="0.85"/><circle cx="212.17" cy="194.28" r="0.85"/><circle cx="211.00" cy="196.96" r="0.85"/><circle cx="212.89" cy="199.21" r="0.85"/><circle cx="210.55" cy="200.37" r="0.85"/><circle cx="211.09" cy="202.35" r="0.85"/><circle cx="212.98" cy="204.18" r="0.85"/><circle cx="210.46" cy="204.73" r="0.85"/><circle cx="211.90" cy="206.25" r="0.85"/><circle cx="210.37" cy="207.58" r="0.85"/><circle cx="213.16" cy="208.15" r="0.85"/><circle cx="210.19" cy="209.62" r="0.85"/><circle cx="216.63" cy="204.59" r="0.85"/><circle cx="213.03" cy="205.47" r="0.85"/><circle cx="218.70" cy="205.81" r="0.85"/><circle cx="216.45" cy="206.45" r="0.85"/><circle cx="218.52" cy="208.14" r="0.85"/><circle cx="216.36" cy="208.44" r="0.85"/><circle cx="213.21" cy="208.66" r="0.85"/><circle cx="221.34" cy="175.53" r="0.85"/><circle cx="221.43" cy="182.16" r="0.85"/><circle cx="221.52" cy="190.77" r="0.85"/><circle cx="221.61" cy="198.02" r="0.85"/><circle cx="221.70" cy="203.12" r="0.85"/><circle cx="216.57" cy="204.09" r="0.85"/><circle cx="218.73" cy="205.60" r="0.85"/><circle cx="221.79" cy="206.13" r="0.85"/><circle cx="216.75" cy="206.54" r="0.85"/><circle cx="218.91" cy="208.04" r="0.85"/><circle cx="220.71" cy="208.29" r="0.85"/><circle cx="216.84" cy="208.45" r="0.85"/><circle cx="222.06" cy="209.78" r="0.85"/><circle cx="221.33" cy="174.90" r="0.85"/><circle cx="221.42" cy="180.87" r="0.85"/><circle cx="221.15" cy="183.78" r="0.85"/><circle cx="221.51" cy="189.37" r="0.85"/><circle cx="221.06" cy="192.76" r="0.85"/><circle cx="221.60" cy="197.24" r="0.85"/><circle cx="220.97" cy="199.38" r="0.85"/><circle cx="221.69" cy="203.14" r="0.85"/><circle cx="218.63" cy="205.94" r="0.85"/><circle cx="220.79" cy="206.54" r="0.85"/><circle cx="224.30" cy="207.18" r="0.85"/><circle cx="221.87" cy="208.27" r="0.85"/><circle cx="218.90" cy="208.53" r="0.85"/><circle cx="224.12" cy="208.97" r="0.85"/><circle cx="222.05" cy="210.01" r="0.85"/><circle cx="221.27" cy="175.29" r="0.85"/><circle cx="221.18" cy="180.77" r="0.85"/><circle cx="221.45" cy="183.98" r="0.85"/><circle cx="221.09" cy="189.87" r="0.85"/><circle cx="221.54" cy="192.52" r="0.85"/><circle cx="221.00" cy="197.73" r="0.85"/><circle cx="221.63" cy="199.36" r="0.85"/><circle cx="220.91" cy="202.82" r="0.85"/><circle cx="221.72" cy="204.48" r="0.85"/><circle cx="221.81" cy="206.91" r="0.85"/><circle cx="224.33" cy="207.58" r="0.85"/><circle cx="221.90" cy="208.81" r="0.85"/><circle cx="224.06" cy="210.00" r="0.85"/><circle cx="246.12" cy="208.71" r="0.85"/><circle cx="254.83" cy="198.44" r="0.85"/><circle cx="254.92" cy="201.24" r="0.85"/><circle cx="255.01" cy="204.10" r="0.85"/><circle cx="255.10" cy="207.10" r="0.85"/><circle cx="258.43" cy="207.64" r="0.85"/><circle cx="255.19" cy="209.08" r="0.85"/><circle cx="260.53" cy="188.68" r="0.85"/><circle cx="260.62" cy="193.65" r="0.85"/><circle cx="260.35" cy="195.37" r="0.85"/><circle cx="260.71" cy="199.12" r="0.85"/><circle cx="258.73" cy="200.63" r="0.85"/><circle cx="260.80" cy="203.88" r="0.85"/><circle cx="258.55" cy="204.07" r="0.85"/><circle cx="258.46" cy="206.78" r="0.85"/><circle cx="260.89" cy="207.20" r="0.85"/><circle cx="255.13" cy="207.82" r="0.85"/><circle cx="258.37" cy="208.65" r="0.85"/><circle cx="259.99" cy="209.18" r="0.85"/><circle cx="260.53" cy="189.14" r="0.85"/><circle cx="260.62" cy="192.93" r="0.85"/><circle cx="260.35" cy="195.23" r="0.85"/><circle cx="260.71" cy="199.16" r="0.85"/><circle cx="258.73" cy="200.38" r="0.85"/><circle cx="258.82" cy="202.94" r="0.85"/><circle cx="260.80" cy="204.41" r="0.85"/><circle cx="258.91" cy="205.92" r="0.85"/><circle cx="260.89" cy="207.68" r="0.85"/><circle cx="259.00" cy="208.16" r="0.85"/><circle cx="258.28" cy="209.74" r="0.85"/><circle cx="267.54" cy="203.05" r="0.85"/><circle cx="267.45" cy="205.57" r="0.85"/><circle cx="270.51" cy="205.72" r="0.85"/><circle cx="270.33" cy="207.73" r="0.85"/><circle cx="267.36" cy="207.74" r="0.85"/><circle cx="270.24" cy="209.53" r="0.85"/><circle cx="267.65" cy="202.56" r="0.85"/><circle cx="267.47" cy="204.50" r="0.85"/><circle cx="270.53" cy="205.71" r="0.85"/><circle cx="267.83" cy="207.00" r="0.85"/><circle cx="270.62" cy="207.42" r="0.85"/><circle cx="267.92" cy="209.00" r="0.85"/><circle cx="270.26" cy="209.22" r="0.85"/><circle cx="326.03" cy="208.25" r="0.85"/><circle cx="326.21" cy="209.96" r="0.85"/><circle cx="128.60" cy="138.40" r="0.8"/></g>
<polyline points="29.00,223.1 29.30,222.9 29.60,222.8 29.90,223.0 30.20,222.9 30.50,223.2 30.80,223.0 31.10,223.0 31.40,222.8 31.70,222.6 32.00,222.6 32.30,222.8 32.60,223.0 32.90,223.2 33.20,223.1 33.50,223.2 33.80,223.0 34.10,222.8 34.40,222.8 34.70,223.0 35.00,223.2 35.30,223.3 35.60,223.3 35.90,223.2 36.20,223.1 36.50,223.1 36.80,223.0 37.10,223.1 37.40,223.1 37.70,223.2 38.00,223.1 38.30,223.0 38.60,223.2 38.90,223.2 39.20,223.1 39.50,223.1 39.80,223.2 40.10,223.2 40.40,223.0 40.70,222.9 41.00,223.0 41.30,222.8 41.60,222.9 41.90,223.1 42.20,222.9 42.50,222.9 42.80,223.1 43.10,223.2 43.40,223.2 43.70,223.2 44.00,223.0 44.30,223.0 44.60,223.1 44.90,223.0 45.20,223.1 45.50,222.8 45.80,223.0 46.10,223.1 46.40,223.0 46.70,222.7 47.00,222.8 47.30,222.9 47.60,223.1 47.90,223.2 48.20,223.0 48.50,222.8 48.80,222.7 49.10,223.1 49.40,223.1 49.70,222.9 50.00,223.0 50.30,223.2 50.60,223.2 50.90,223.0 51.20,223.2 51.50,223.2 51.80,223.0 52.10,223.1 52.40,223.1 52.70,223.1 53.00,223.0 53.30,222.9 53.60,222.9 53.90,223.0 54.20,223.0 54.50,223.2 54.80,222.9 55.10,222.8 55.40,223.1 55.70,223.1 56.00,223.1 56.30,223.1 56.60,222.9 56.90,222.9 57.20,222.8 57.50,222.7 57.80,223.1 58.10,223.2 58.40,223.3 58.70,222.9 59.00,223.1 59.30,222.9 59.60,223.0 59.90,223.1 60.20,222.8 60.50,222.8 60.80,222.9 61.10,223.1 61.40,223.1 61.70,223.0 62.00,223.0 62.30,223.1 62.60,222.9 62.90,223.0 63.20,222.9 63.50,222.7 63.80,222.7 64.10,222.6 64.40,222.8 64.70,222.9 65.00,223.1 65.30,223.2 65.60,223.2 65.90,223.4 66.20,223.1 66.50,223.0 66.80,222.9 67.10,222.7 67.40,222.9 67.70,222.9 68.00,222.8 68.30,223.1 68.60,223.3 68.90,222.9 69.20,222.7 69.50,222.6 69.80,222.9 70.10,223.1 70.40,222.9 70.70,222.7 71.00,222.8 71.30,222.8 71.60,222.7 71.90,222.6 72.20,222.6 72.50,222.6 72.80,222.7 73.10,222.9 73.40,222.8 73.70,222.8 74.00,222.7 74.30,223.0 74.60,222.9 74.90,223.0 75.20,223.0 75.50,222.9 75.80,222.9 76.10,222.7 76.40,222.7 76.70,222.9 77.00,223.1 77.30,222.9 77.60,222.8 77.90,223.1 78.20,222.8 78.50,223.1 78.80,223.2 79.10,222.9 79.40,223.1 79.70,222.9 80.00,222.7 80.30,222.7 80.60,222.8 80.90,222.9 81.20,222.9 81.50,223.1 81.80,223.1 82.10,222.9 82.40,222.8 82.70,223.0 83.00,222.8 83.30,223.1 83.60,223.2 83.90,223.0 84.20,222.9 84.50,222.8 84.80,222.9 85.10,222.8 85.40,222.7 85.70,222.7 86.00,222.7 86.30,222.7 86.60,222.8 86.90,223.1 87.20,223.1 87.50,223.1 87.80,223.3 88.10,223.1 88.40,223.0 88.70,222.9 89.00,223.1 89.30,223.2 89.60,223.3 89.90,223.2 90.20,222.9 90.50,222.8 90.80,223.0 91.10,223.2 91.40,223.1 91.70,223.3 92.00,223.4 92.30,223.3 92.60,223.1 92.90,223.0 93.20,222.9 93.50,222.9 93.80,222.9 94.10,222.7 94.40,222.7 94.70,222.6 95.00,222.8 95.30,223.1 95.60,223.2 95.90,222.9 96.20,222.9 96.50,223.0 96.80,222.8 97.10,222.7 97.40,222.9 97.70,222.8 98.00,223.0 98.30,222.8 98.60,223.1 98.90,222.9 99.20,222.9 99.50,223.0 99.80,223.2 100.10,223.3 100.40,223.3 100.70,223.3 101.00,222.9 101.30,222.8 101.60,222.9 101.90,223.2 102.20,223.2 102.50,223.0 102.80,222.9 103.10,223.2 103.40,223.1 103.70,223.2 104.00,223.3 104.30,223.3 104.60,223.2 104.90,223.2 105.20,223.0 105.50,222.8 105.80,223.1 106.10,222.8 106.40,222.8 106.70,222.9 107.00,223.2 107.30,223.0 107.36,222.9 107.42,223.1 107.48,223.0 107.54,222.9 107.60,222.9 107.66,222.7 107.72,223.1 107.78,223.1 107.84,222.8 107.90,222.7 107.96,222.7 108.02,222.7 108.08,223.0 108.14,222.8 108.20,222.7 108.26,222.7 108.32,222.8 108.38,223.0 108.44,222.9 108.50,223.0 108.56,222.9 108.62,222.8 108.68,222.9 108.74,222.9 108.80,222.9 108.86,222.9 108.92,222.9 108.98,222.9 109.04,222.7 109.10,222.7 109.16,223.0 109.22,222.8 109.28,222.7 109.34,222.7 109.40,222.8 109.46,222.6 109.52,222.7 109.58,222.9 109.64,223.0 109.70,223.2 109.76,222.9 109.82,223.0 109.88,222.9 109.94,222.8 110.00,223.0 110.06,223.1 110.12,223.2 110.42,223.3 110.72,222.9 111.02,222.9 111.32,222.9 111.62,222.7 111.92,222.6 112.22,222.7 112.52,222.9 112.82,222.8 113.12,222.6 113.42,222.7 113.72,223.0 114.02,223.0 114.32,223.3 114.62,223.2 114.92,223.3 115.22,223.2 115.52,223.1 115.82,223.0 116.12,222.8 116.42,222.7 116.72,222.9 117.02,223.1 117.32,222.8 117.62,222.7 117.92,222.8 118.22,222.8 118.52,223.0 118.82,222.9 119.12,222.8 119.42,222.9 119.72,223.2 120.02,223.0 120.32,223.1 120.38,222.8 120.44,222.9 120.50,223.1 120.56,222.9 120.62,222.9 120.68,223.0 120.74,223.0 120.80,223.1 120.86,223.1 120.92,223.1 120.98,222.9 121.04,222.8 121.10,222.6 121.16,222.3 121.22,221.8 121.28,221.1 121.34,219.8 121.40,218.2 121.46,216.6 121.52,215.0 121.58,213.1 121.64,212.2 121.70,211.7 121.76,212.4 121.82,213.6 121.88,215.7 121.94,218.2 122.00,220.8 122.06,223.1 122.12,224.8 122.18,225.8 122.24,226.2 122.30,225.9 122.36,225.6 122.42,225.1 122.48,224.7 122.54,223.9 122.60,223.6 122.66,223.1 122.72,223.2 122.78,223.2 122.84,223.1 122.90,223.1 122.96,223.2 123.02,223.0 123.08,222.8 123.14,223.0 123.20,222.9 123.26,222.8 123.32,222.9 123.38,223.1 123.44,223.3 123.50,223.2 123.56,223.3 123.62,223.0 123.68,223.0 123.74,222.8 124.04,222.7 124.34,223.0 124.64,222.8 124.94,223.0 125.24,223.0 125.54,223.2 125.84,223.4 126.14,223.0 126.44,222.9 126.74,223.2 127.04,223.0 127.34,222.8 127.40,223.1 127.46,223.1 127.52,223.0 127.58,223.0 127.64,223.0 127.70,223.0 127.76,223.0 127.82,222.8 127.88,223.0 127.94,223.2 128.00,223.1 128.06,223.2 128.12,222.9 128.18,222.7 128.24,222.3 128.30,222.4 128.36,221.7 128.42,221.1 128.48,220.3 128.54,219.4 128.60,218.2 128.66,217.0 128.72,216.4 128.78,215.9 128.84,216.3 128.90,216.6 128.96,217.9 129.02,219.0 129.08,220.3 129.14,221.5 129.20,222.2 129.26,222.9 129.32,223.4 129.38,223.2 129.44,223.1 129.50,223.4 129.56,223.2 129.62,223.1 129.68,223.3 129.74,223.3 129.80,223.0 129.86,223.0 129.92,222.9 129.98,223.1 130.04,223.1 130.10,223.2 130.16,222.9 130.22,223.1 130.28,222.9 130.34,223.1 130.40,223.1 130.46,223.2 130.52,222.9 130.58,222.7 130.64,222.8 130.70,223.1 130.76,223.1 131.06,223.0 131.36,222.8 131.66,222.9 131.96,222.9 132.26,223.2 132.56,223.2 132.86,223.1 133.16,222.9 133.46,222.8 133.76,223.1 134.06,223.1 134.36,222.9 134.66,223.1 134.96,222.9 135.26,222.9 135.56,223.2 135.86,222.9 136.16,222.7 136.46,222.6 136.76,222.6 137.06,222.7 137.36,222.8 137.66,222.8 137.96,222.6 138.26,222.8 138.56,222.9 138.86,223.0 139.16,222.9 139.46,223.0 139.76,222.9 140.06,223.1 140.36,222.9 140.66,222.9 140.96,222.9 141.26,222.9 141.56,223.0 141.86,223.0 142.16,222.9 142.46,223.1 142.76,223.3 143.06,223.2 143.36,223.2 143.66,223.2 143.96,223.0 144.26,223.1 144.56,223.0 144.62,223.0 144.68,222.9 144.74,223.0 144.80,222.9 144.86,222.8 144.92,222.7 144.98,222.9 145.04,222.8 145.10,223.1 145.16,223.3 145.22,223.4 145.28,223.3 145.34,223.7 145.40,223.7 145.46,223.9 145.52,224.3 145.58,224.7 145.64,225.0 145.70,225.4 145.76,225.6 145.82,225.4 145.88,225.2 145.94,224.9 146.00,224.8 146.06,224.5 146.12,223.9 146.18,223.6 146.24,223.6 146.30,223.6 146.36,223.4 146.42,223.4 146.48,223.4 146.54,223.1 146.60,222.8 146.66,223.0 146.72,222.9 146.78,223.1 146.84,222.9 146.90,222.9 146.96,223.1 147.02,222.9 147.08,222.9 147.14,222.8 147.20,222.9 147.26,223.1 147.32,223.3 147.62,223.3 147.92,223.0 148.22,223.0 148.52,223.0 148.82,223.1 149.12,223.1 149.42,223.3 149.72,223.4 150.02,223.1 150.32,222.9 150.62,223.2 150.92,222.9 151.22,223.2 151.52,222.9 151.82,223.0 152.12,222.8 152.42,222.7 152.72,222.8 153.02,223.0 153.32,223.1 153.62,223.0 153.92,222.8 154.22,222.8 154.52,222.7 154.82,222.7 155.12,222.8 155.42,222.9 155.72,223.2 156.02,222.9 156.32,223.0 156.62,223.0 156.92,222.8 157.22,222.8 157.52,222.7 157.82,223.0 158.12,223.0 158.42,222.8 158.72,222.9 159.02,222.9 159.32,223.2 159.62,223.2 159.92,223.0 160.22,223.2 160.52,222.9 160.82,223.0 161.12,222.8 161.42,223.0 161.72,222.9 162.02,223.1 162.32,223.2 162.62,223.2 162.92,222.9 163.22,222.9 163.52,222.8 163.82,223.0 164.12,223.2 164.42,223.1 164.72,223.2 165.02,223.2 165.32,222.9 165.62,222.9 165.92,222.9 166.22,223.0 166.52,223.0 166.82,222.9 167.12,223.0 167.42,222.8 167.72,222.7 168.02,222.7 168.32,222.6 168.62,222.9 168.92,222.9 169.22,223.0 169.52,223.0 169.82,222.8 170.12,223.0 170.42,223.2 170.72,222.9 171.02,222.9 171.32,223.1 171.62,223.0 171.92,223.2 172.22,223.2 172.52,223.2 172.82,223.3 173.12,223.3 173.42,223.2 173.72,222.9 174.02,222.9 174.32,223.0 174.62,223.0 174.92,223.1 175.22,223.0 175.52,223.1 175.82,223.0 176.12,223.0 176.42,223.0 176.72,222.8 177.02,222.7 177.32,222.6 177.62,222.7 177.92,222.8 178.22,222.7 178.52,222.6 178.82,222.9 179.12,223.2 179.42,223.1 179.72,223.0 180.02,223.1 180.32,222.8 180.62,222.9 180.92,223.0 181.22,223.2 181.52,223.2 181.82,223.1 182.12,223.0 182.42,223.2 182.72,223.1 183.02,223.1 183.32,223.2 183.62,223.1 183.92,222.8 184.22,222.9 184.52,223.2 184.82,223.0 185.12,222.8 185.42,222.7 185.72,223.0 186.02,222.8 186.32,223.0 186.62,222.8 186.92,222.9 187.22,223.1 187.52,222.9 187.82,222.9 188.12,223.0 188.42,223.0 188.72,223.0 189.02,223.0 189.32,222.8 189.62,222.9 189.92,222.8 190.22,223.0 190.52,223.0 190.82,222.9 191.12,223.2 191.42,223.0 191.72,223.2 192.02,223.1 192.32,223.1 192.62,222.9 192.92,222.8 193.22,223.0 193.52,223.0 193.82,223.0 194.12,222.9 194.42,222.9 194.72,223.0 195.02,223.2 195.32,223.2 195.62,223.0 195.92,223.1 196.22,223.1 196.52,223.1 196.82,223.1 197.12,223.0 197.42,222.8 197.72,222.7 198.02,223.1 198.32,223.2 198.62,223.3 198.92,223.0 199.22,223.2 199.52,223.3 199.82,223.2 200.12,223.0 200.42,222.8 200.72,223.1 201.02,223.3 201.32,223.4 201.62,223.2 201.92,223.2 202.22,223.3 202.52,223.2 202.82,222.9 203.12,223.2 203.42,223.1 203.72,223.2 204.02,223.2 204.32,222.9 204.62,222.9 204.92,222.7 205.22,222.7 205.52,223.1 205.82,223.1 206.12,223.1 206.42,222.9 206.72,223.0 207.02,223.1 207.32,223.1 207.62,223.2 207.92,223.3 208.22,223.1 208.52,223.1 208.82,223.1 209.12,223.1 209.42,223.1 209.72,222.9 210.02,222.7 210.32,222.7 210.62,222.6 210.92,222.8 210.98,222.8 211.04,223.0 211.10,222.8 211.16,222.7 211.22,223.0 211.28,222.8 211.34,222.8 211.40,223.0 211.46,223.0 211.52,222.9 211.58,222.8 211.64,222.9 211.70,222.8 211.76,223.1 211.82,222.9 211.88,223.1 211.94,222.7 212.00,222.6 212.06,222.3 212.12,222.1 212.18,221.8 212.24,221.6 212.30,221.2 212.36,221.2 212.42,221.0 212.48,221.4 212.54,222.0 212.60,222.5 212.66,223.3 212.72,223.8 212.78,224.2 212.84,224.9 212.90,225.2 212.96,225.2 213.02,224.7 213.08,224.6 213.14,224.1 213.20,224.0 213.26,223.5 213.32,223.2 213.38,223.0 213.44,223.1 213.50,223.3 213.56,223.2 213.62,222.9 213.68,223.0 213.74,223.2 213.80,223.3 213.86,222.9 213.92,222.8 213.98,223.1 214.04,223.1 214.10,223.3 214.16,223.4 214.22,223.4 214.28,223.3 214.34,223.1 214.40,222.8 214.70,223.0 215.00,223.0 215.30,223.2 215.60,222.9 215.90,223.1 216.20,223.1 216.50,223.3 216.80,223.3 217.10,223.1 217.40,223.1 217.70,222.8 218.00,222.8 218.30,222.9 218.60,222.8 218.90,222.8 219.20,223.0 219.50,223.0 219.80,223.2 219.86,223.1 219.92,223.1 219.98,223.0 220.04,223.1 220.10,223.1 220.16,223.3 220.22,223.0 220.28,222.8 220.34,222.8 220.40,222.9 220.46,223.0 220.52,222.8 220.58,222.8 220.64,222.8 220.70,222.6 220.76,222.7 220.82,222.3 220.88,222.3 220.94,221.9 221.00,221.9 221.06,221.9 221.12,222.1 221.18,222.3 221.24,222.2 221.30,222.6 221.36,223.2 221.42,223.5 221.48,223.7 221.54,224.0 221.60,223.9 221.66,224.1 221.72,223.9 221.78,223.9 221.84,223.4 221.90,223.4 221.96,223.0 222.02,223.2 222.08,223.3 222.14,223.2 222.20,223.3 222.26,223.0 222.32,222.8 222.38,223.0 222.44,223.0 222.50,222.8 222.56,223.0 222.62,223.2 222.68,222.9 222.74,223.0 222.80,222.9 222.86,222.7 222.92,222.6 222.98,222.6 223.04,222.7 223.10,222.7 223.40,222.9 223.70,223.0 224.00,223.2 224.30,223.3 224.60,223.0 224.90,223.1 225.20,223.2 225.50,223.0 225.80,223.0 226.10,223.3 226.40,223.2 226.70,223.2 227.00,223.0 227.30,223.3 227.60,223.3 227.90,223.1 228.20,222.9 228.50,222.7 228.80,222.8 229.10,223.1 229.40,223.2 229.70,222.9 230.00,222.8 230.30,222.7 230.60,222.7 230.90,222.7 231.20,222.7 231.50,222.8 231.80,223.1 232.10,223.2 232.40,223.2 232.70,223.0 233.00,223.2 233.30,223.0 233.60,222.8 233.90,222.7 234.20,223.0 234.50,223.1 234.80,223.0 235.10,222.8 235.40,223.0 235.70,223.0 236.00,223.1 236.30,223.1 236.60,222.8 236.90,222.7 237.20,222.7 237.50,222.8 237.80,223.0 238.10,223.0 238.40,222.8 238.70,223.1 239.00,223.0 239.30,223.0 239.60,222.9 239.90,222.8 240.20,222.7 240.50,222.9 240.80,223.2 241.10,223.0 241.40,222.9 241.70,222.8 242.00,222.7 242.30,222.6 242.60,222.9 242.90,223.2 243.20,222.9 243.50,222.7 243.80,222.8 244.10,222.8 244.40,222.8 244.70,223.1 245.00,222.9 245.30,222.8 245.60,223.1 245.90,223.1 246.20,223.2 246.50,223.2 246.80,222.9 247.10,223.2 247.40,222.9 247.70,222.8 248.00,222.9 248.30,223.1 248.60,223.3 248.90,222.9 249.20,222.8 249.50,222.6 249.80,222.6 250.10,223.0 250.40,222.8 250.70,222.9 251.00,222.8 251.30,222.6 251.60,222.7 251.90,222.7 252.20,222.9 252.50,223.1 252.80,223.1 253.10,223.1 253.40,222.9 253.70,222.8 254.00,222.9 254.30,222.9 254.60,223.1 254.90,222.9 255.20,222.7 255.50,222.6 255.80,222.7 256.10,222.7 256.40,222.8 256.70,223.1 257.00,223.2 257.30,223.1 257.60,223.2 257.90,223.3 258.20,223.0 258.50,223.1 258.80,222.9 259.10,222.9 259.16,222.9 259.22,222.8 259.28,222.7 259.34,222.7 259.40,222.9 259.46,223.2 259.52,223.3 259.58,222.9 259.64,223.0 259.70,222.8 259.76,222.9 259.82,223.0 259.88,222.9 259.94,222.8 260.00,222.9 260.06,222.8 260.12,223.2 260.18,223.5 260.24,223.3 260.30,223.7 260.36,223.9 260.42,223.6 260.48,223.8 260.54,223.8 260.60,223.6 260.66,223.7 260.72,223.6 260.78,223.6 260.84,223.6 260.90,223.6 260.96,223.5 261.02,223.4 261.08,223.0 261.14,222.9 261.20,223.0 261.26,223.0 261.32,222.9 261.38,223.1 261.44,223.1 261.50,223.2 261.56,223.1 261.62,223.3 261.68,223.1 261.74,223.3 261.80,223.2 261.86,223.0 261.92,223.1 261.98,222.8 262.04,223.0 262.34,223.1 262.64,223.2 262.94,222.9 263.24,222.9 263.54,223.0 263.84,222.8 264.14,223.0 264.44,223.2 264.74,223.2 265.04,223.2 265.34,223.3 265.64,223.2 265.94,223.1 266.24,223.2 266.54,223.2 266.84,223.0 267.14,223.1 267.44,223.2 267.74,223.3 268.04,223.0 268.34,222.8 268.64,223.0 268.94,223.1 269.24,223.2 269.54,223.1 269.84,223.0 270.14,223.2 270.44,223.0 270.74,222.9 271.04,222.7 271.34,222.6 271.64,222.9 271.94,223.0 272.24,222.9 272.54,223.0 272.84,222.9 273.14,222.9 273.44,223.0 273.74,223.1 274.04,223.0 274.34,223.2 274.64,223.1 274.94,223.1 275.24,223.2 275.54,223.2 275.84,223.1 276.14,223.3 276.44,222.9 276.74,222.7 277.04,222.6 277.34,222.7 277.64,222.8 277.94,223.0 278.24,223.1 278.54,222.8 278.84,223.1 279.14,222.9 279.44,223.2 279.74,223.0 280.04,223.2 280.34,223.2 280.64,222.9 280.94,222.9 281.24,222.9 281.54,223.2 281.84,223.0 282.14,222.9 282.44,222.8 282.74,222.6 283.04,222.8 283.34,223.0 283.64,222.8 283.94,223.1 284.24,222.9 284.54,223.2 284.84,223.2 285.14,223.3 285.44,223.2 285.74,223.3 286.04,223.2 286.34,223.2 286.64,223.1 286.94,223.0 287.24,222.9 287.54,222.9 287.84,223.1 288.14,222.9 288.44,223.1 288.74,223.2 289.04,222.9 289.34,222.9 289.64,223.1 289.94,223.1 290.24,223.0 290.54,223.0 290.84,222.9 291.14,223.2 291.44,223.2 291.74,223.0 292.04,222.9 292.34,223.1 292.64,223.2 292.94,223.1 293.24,223.0 293.54,222.9 293.84,223.0 294.14,223.2 294.44,223.2 294.74,223.0 295.04,222.7 295.34,222.9 295.64,222.8 295.94,223.1 296.24,222.9 296.54,223.2 296.84,223.3 297.14,223.0 297.44,222.8 297.74,223.0 298.04,222.8 298.34,222.7 298.64,222.8 298.94,222.7 299.24,222.6 299.54,222.8 299.84,223.0 300.14,223.1 300.44,222.9 300.74,222.7 301.04,222.8 301.34,223.0 301.64,222.9 301.94,223.0 302.24,222.8 302.54,223.1 302.84,223.2 303.14,223.3 303.44,223.1 303.74,222.9 304.04,223.1 304.34,223.0 304.64,222.9 304.94,222.9 305.24,223.1 305.54,223.1 305.84,223.1 306.14,222.9 306.44,222.8 306.74,222.7 307.04,223.0 307.34,223.3 307.64,222.9 307.94,223.0 308.24,223.2 308.54,223.2 308.84,223.3 309.14,223.0 309.44,223.1 309.74,223.2 310.04,222.9 310.34,222.8 310.64,223.1 310.94,222.9 311.24,223.0 311.54,223.2 311.84,223.2 312.14,223.3 312.44,223.0 312.74,223.2 313.04,222.9 313.34,222.9 313.64,222.9 313.94,223.1 314.24,222.8 314.54,222.7 314.84,222.8 315.14,222.7 315.44,223.0 315.74,223.0 316.04,223.0 316.34,223.0 316.64,223.2 316.94,223.3 317.24,223.4 317.54,223.0 317.84,223.1 318.14,223.2 318.44,223.3 318.74,223.2 319.04,223.1 319.34,222.9 319.64,222.7 319.94,222.6 320.24,222.7 320.54,222.9 320.84,222.9 321.14,223.0 321.44,222.9 321.74,223.2 322.04,223.3 322.34,223.0 322.64,223.0 322.94,222.8 323.24,222.8 323.54,222.8 323.84,223.0 324.14,222.9 324.44,223.0 324.74,222.8 324.80,223.0 324.86,223.1 324.92,222.9 324.98,223.1 325.04,223.2 325.10,223.3 325.16,223.3 325.22,223.2 325.28,223.2 325.34,223.3 325.40,223.2 325.46,223.4 325.52,223.6 325.58,223.7 325.64,223.9 325.70,223.8 325.76,224.2 325.82,224.3 325.88,224.5 325.94,224.6 326.00,224.5 326.06,224.6 326.12,224.6 326.18,224.6 326.24,224.0 326.30,224.0 326.36,223.9 326.42,223.7 326.48,223.6 326.54,223.3 326.60,223.1 326.66,222.9 326.72,223.1 326.78,223.2 326.84,223.1 326.90,223.1 326.96,223.2 327.02,223.0 327.08,223.0 327.14,223.1 327.20,223.1 327.26,223.3 327.32,223.0 327.38,223.1 327.44,223.2 327.50,223.1 327.80,223.3 328.10,223.1 328.40,222.9 328.70,222.8 329.00,222.8 329.30,223.1 329.60,223.3 329.90,223.4 330.20,223.3 330.50,223.2 330.80,223.2 331.10,223.1 331.40,223.3 331.70,223.1 332.00,223.0 332.30,223.1 332.60,223.2 332.90,223.2 333.20,223.0 333.50,223.0 333.80,222.9 334.10,222.8 334.40,222.8 334.70,222.6 335.00,222.6 335.30,222.9 335.60,223.1 335.90,222.8 336.20,223.1 336.50,223.1 336.80,223.2 337.10,222.9 337.40,222.7 337.70,223.0 338.00,222.8 338.30,222.7 338.60,222.9 338.90,222.7 339.20,222.8 339.50,223.0 339.80,222.8 340.10,223.1 340.40,223.2 340.70,223.4 341.00,223.3 341.30,223.3 341.60,223.0 341.90,223.0 342.20,223.2 342.50,223.3 342.80,223.0 343.10,223.2 343.40,223.0 343.70,223.0 344.00,223.2 344.30,223.2 344.60,223.0" fill="none" stroke="#2626ee" stroke-width="1.15"/>
</g>
<text transform="translate(49.12,202.30) rotate(-90)" font-size="6.4" textLength="16.4" lengthAdjust="spacingAndGlyphs" fill="#1e1e1e">(110)</text>
<text transform="translate(61.12,202.30) rotate(-90)" font-size="6.4" textLength="16.4" lengthAdjust="spacingAndGlyphs" fill="#1e1e1e">(111)</text>
<text transform="translate(86.12,191.10) rotate(-90)" font-size="6.4" textLength="16.4" lengthAdjust="spacingAndGlyphs" fill="#1e1e1e">(112)</text>
<text transform="translate(110.02,196.50) rotate(-90)" font-size="6.4" textLength="16.4" lengthAdjust="spacingAndGlyphs" fill="#1e1e1e">(311)</text>
<text transform="translate(122.72,39.40) rotate(-90)" font-size="6.4" textLength="16.4" lengthAdjust="spacingAndGlyphs" fill="#1e1e1e">(221)</text>
<text transform="translate(130.92,137.10) rotate(-90)" font-size="6.4" textLength="16.4" lengthAdjust="spacingAndGlyphs" fill="#1e1e1e">(004)</text>
<text transform="translate(146.92,180.30) rotate(-90)" font-size="6.4" textLength="16.4" lengthAdjust="spacingAndGlyphs" fill="#1e1e1e">(223)</text>
<line x1="141.29" y1="169.85" x2="141.29" y2="166.54" stroke="#333" stroke-width="0.55"/>
<text transform="translate(162.82,196.10) rotate(-90)" font-size="6.4" textLength="16.4" lengthAdjust="spacingAndGlyphs" fill="#1e1e1e">(223)</text>
<text transform="translate(213.72,158.50) rotate(-90)" font-size="6.4" textLength="16.4" lengthAdjust="spacingAndGlyphs" fill="#1e1e1e">(621)</text>
<line x1="208.09" y1="155.86" x2="208.09" y2="152.55" stroke="#333" stroke-width="0.55"/>
<text transform="translate(222.72,173.70) rotate(-90)" font-size="6.4" textLength="16.4" lengthAdjust="spacingAndGlyphs" fill="#1e1e1e">(225)</text>
<text transform="translate(262.02,188.20) rotate(-90)" font-size="6.4" textLength="16.4" lengthAdjust="spacingAndGlyphs" fill="#1e1e1e">(823)</text>
<line x1="256.39" y1="185.56" x2="256.39" y2="182.25" stroke="#333" stroke-width="0.55"/>
<clipPath id="c2"><rect x="361.8" y="5.8" width="313.7" height="230.8"/></clipPath>
<g clip-path="url(#c2)">
<polyline points="379.48,210.4 379.54,210.1 379.60,209.7 379.66,209.3 379.72,208.9 379.78,208.7 379.84,208.8 379.90,209.0 379.96,209.5 380.02,209.9 380.08,210.2 380.14,210.5" fill="#f04a4a" stroke="#ee2020" stroke-width="0.85"/>
<polyline points="386.20,210.5 386.26,210.3 386.32,210.0 386.38,209.5 386.44,208.9 386.50,208.0 386.56,207.1 386.62,206.3 386.68,205.8 386.74,205.9 386.80,206.5 386.86,207.4 386.92,208.3 386.98,209.1 387.04,209.6 387.10,210.0 387.16,210.3 387.22,210.5" fill="#f04a4a" stroke="#ee2020" stroke-width="0.85"/>
<polyline points="387.70,210.5 387.76,210.3 387.82,210.0 387.88,209.7 387.94,209.1 388.00,208.4 388.06,207.6 388.12,206.9 388.18,206.5 388.24,206.6 388.30,207.1 388.36,207.9 388.42,208.7 388.48,209.4 388.54,209.9 388.60,210.2 388.66,210.5" fill="#f04a4a" stroke="#ee2020" stroke-width="0.85"/>
<polyline points="392.20,210.4 392.26,210.0 392.32,209.6 392.38,209.0 392.44,208.3 392.50,207.6 392.56,207.1 392.62,207.0 392.68,207.4 392.74,208.1 392.80,208.8 392.86,209.4 392.92,209.9 392.98,210.3 393.04,210.5" fill="#f04a4a" stroke="#ee2020" stroke-width="0.85"/>
<polyline points="403.42,210.4 403.48,210.1 403.54,209.6 403.60,209.1 403.66,208.4 403.72,207.9 403.78,207.5 403.84,207.6 403.90,208.0 403.96,208.7 404.02,209.3 404.08,209.8 404.14,210.2 404.20,210.5" fill="#f04a4a" stroke="#ee2020" stroke-width="0.85"/>
<polyline points="406.84,210.5 406.90,210.2 406.96,209.9 407.02,209.7 407.08,209.5 407.14,209.5 407.20,209.7 407.26,210.0 407.32,210.3 407.38,210.6" fill="#f04a4a" stroke="#ee2020" stroke-width="0.85"/>
<polyline points="416.08,210.6 416.14,210.4 416.20,210.3 416.26,210.0 416.32,209.6 416.38,209.0 416.44,208.1 416.50,206.8 416.56,205.1 416.62,202.9 416.68,200.6 416.74,198.7 416.80,197.9 416.86,198.7 416.92,200.6 416.98,202.9 417.04,205.1 417.10,206.8 417.16,208.1 417.22,209.0 417.28,209.6 417.34,210.0 417.40,210.3 417.46,210.4 417.52,210.5" fill="#f04a4a" stroke="#ee2020" stroke-width="0.85"/>
<polyline points="418.48,210.6 418.54,210.4 418.60,210.1 418.66,209.8 418.72,209.6 418.78,209.4 418.84,209.5 418.90,209.7 418.96,210.0 419.02,210.3 419.08,210.5" fill="#f04a4a" stroke="#ee2020" stroke-width="0.85"/>
<polyline points="428.44,210.5 428.50,210.3 428.56,209.9 428.62,209.7 428.68,209.5 428.74,209.5 428.80,209.8 428.86,210.1 428.92,210.4 428.98,210.6" fill="#f04a4a" stroke="#ee2020" stroke-width="0.85"/>
<polyline points="431.98,210.5 432.04,210.1 432.10,209.7 432.16,209.2 432.22,208.8 432.28,208.5 432.34,208.6 432.40,208.9 432.46,209.4 432.52,209.8 432.58,210.2 432.64,210.5" fill="#f04a4a" stroke="#ee2020" stroke-width="0.85"/>
<polyline points="435.64,210.6 435.70,210.4 435.76,210.1 435.82,209.6 435.88,208.9 435.94,207.9 436.00,206.7 436.06,205.3 436.12,204.0 436.18,203.2 436.24,203.4 436.30,204.4 436.36,205.8 436.42,207.1 436.48,208.3 436.54,209.2 436.60,209.8 436.66,210.2 436.72,210.5 436.78,210.7" fill="#f04a4a" stroke="#ee2020" stroke-width="0.85"/>
<polyline points="439.24,210.6 439.30,210.4 439.36,210.1 439.42,209.6 439.48,208.9 439.54,207.9 439.60,206.6 439.66,205.1 439.72,203.8 439.78,203.0 439.84,203.2 439.90,204.2 439.96,205.6 440.02,207.0 440.08,208.2 440.14,209.1 440.20,209.8 440.26,210.2 440.32,210.5 440.38,210.7" fill="#f04a4a" stroke="#ee2020" stroke-width="0.85"/>
<polyline points="447.70,210.7 447.76,210.7 447.82,210.7 447.88,210.7 447.94,210.7 448.00,210.7 448.06,210.7 448.12,210.6 448.18,210.6 448.24,210.6 448.30,210.6 448.36,210.6 448.42,210.5 448.48,210.5 448.54,210.5 448.60,210.5 448.66,210.4 448.72,210.4 448.78,210.4 448.84,210.3 448.90,210.3 448.96,210.2 449.02,210.2 449.08,210.1 449.14,210.0 449.20,209.9 449.26,209.7 449.32,209.4 449.38,208.9 449.44,208.3 449.50,207.6 449.56,206.8 449.62,206.0 449.68,205.5 449.74,205.6 449.80,206.1 449.86,206.9 449.92,207.6 449.98,208.3 450.04,208.7 450.10,209.1 450.16,209.3 450.22,209.4 450.28,209.4 450.34,209.4 450.40,209.4 450.46,209.4 450.52,209.4 450.58,209.4 450.64,209.3 450.70,209.3 450.76,209.2 450.82,209.2 450.88,209.1 450.94,209.0 451.00,209.0 451.06,208.9 451.12,208.8 451.18,208.7 451.24,208.6 451.30,208.5 451.36,208.4 451.42,208.3 451.48,208.1 451.54,208.0 451.60,207.9 451.66,207.7 451.72,207.5 451.78,207.4 451.84,207.2 451.90,207.0 451.96,206.7 452.02,206.5 452.08,206.2 452.14,205.9 452.20,205.6 452.26,205.3 452.32,204.9 452.38,204.4 452.44,203.9 452.50,203.4 452.56,202.7 452.62,202.0 452.68,201.1 452.74,200.1 452.80,198.8 452.86,197.2 452.92,195.0 452.98,192.2 453.04,188.5 453.10,183.5 453.16,177.0 453.22,168.7 453.28,158.4 453.34,146.0 453.40,131.9 453.46,116.5 453.52,100.9 453.58,86.8 453.64,76.5 453.70,72.0 453.76,74.3 453.82,82.3 453.88,93.9 453.94,106.8 454.00,119.2 454.06,130.0 454.12,138.7 454.18,145.1 454.24,149.3 454.30,151.7 454.36,152.9 454.42,153.5 454.48,154.0 454.54,155.1 454.60,157.1 454.66,160.1 454.72,163.9 454.78,168.1 454.84,172.7 454.90,177.1 454.96,181.4 455.02,185.3 455.08,188.8 455.14,191.9 455.20,194.6 455.26,196.8 455.32,198.7 455.38,200.3 455.44,201.5 455.50,202.6 455.56,203.4 455.62,204.1 455.68,204.7 455.74,205.2 455.80,205.6 455.86,206.0 455.92,206.3 455.98,206.6 456.04,206.9 456.10,207.1 456.16,207.3 456.22,207.5 456.52,208.2 456.82,208.7 457.12,209.1 457.42,209.4 457.72,209.5 458.02,209.6 458.08,209.6 458.14,209.6 458.20,209.6 458.26,209.6 458.32,209.6 458.38,209.6 458.44,209.5 458.50,209.5 458.56,209.5 458.62,209.4 458.68,209.4 458.74,209.3 458.80,209.3 458.86,209.2 458.92,209.1 458.98,209.0 459.04,208.9 459.10,208.8 459.16,208.6 459.22,208.4 459.28,208.2 459.34,208.0 459.40,207.7 459.46,207.3 459.52,206.8 459.58,206.2 459.64,205.4 459.70,204.3 459.76,202.8 459.82,200.7 459.88,197.8 459.94,194.1 460.00,189.3 460.06,183.5 460.12,176.7 460.18,169.3 460.24,162.0 460.30,155.6 460.36,151.6 460.42,151.0 460.48,154.0 460.54,159.7 460.60,166.9 460.66,174.4 460.72,181.4 460.78,187.6 460.84,192.8 460.90,196.8 460.96,200.0 461.02,202.3 461.08,204.1 461.14,205.3 461.20,206.3 461.26,206.9 461.32,207.5 461.38,207.9 461.44,208.2 461.50,208.5 461.56,208.8 461.62,209.0 461.68,209.2 461.74,209.3 461.80,209.5 461.86,209.6 461.92,209.7 461.98,209.8 462.04,209.9 462.10,210.0 462.16,210.1 462.22,210.1 462.28,210.2 462.34,210.3 462.40,210.3 462.46,210.4 462.52,210.4 462.58,210.4 462.64,210.5 462.70,210.5 462.76,210.6 462.82,210.6 462.88,210.6 462.94,210.6 463.24,210.8" fill="#f04a4a" stroke="#ee2020" stroke-width="1.00"/>
<polyline points="476.80,210.9 476.86,210.8 476.92,210.7 476.98,210.6 477.04,210.5 477.10,210.4 477.16,210.2 477.22,210.0 477.28,209.7 477.34,209.2 477.40,208.6 477.46,207.5 477.52,205.9 477.58,203.5 477.64,200.2 477.70,196.0 477.76,191.3 477.82,186.9 477.88,184.4 477.94,184.9 478.00,188.2 478.06,192.9 478.12,197.5 478.18,201.4 478.24,204.4 478.30,206.5 478.36,207.9 478.42,208.8 478.48,209.4 478.54,209.8 478.60,210.1 478.66,210.3 478.72,210.4 478.78,210.6 478.84,210.7 478.90,210.8 478.96,210.8" fill="#f04a4a" stroke="#ee2020" stroke-width="0.85"/>
<polyline points="485.38,210.8 485.44,210.5 485.50,210.0 485.56,209.4 485.62,208.7 485.68,207.9 485.74,207.2 485.80,207.0 485.86,207.2 485.92,207.9 485.98,208.7 486.04,209.4 486.10,210.0 486.16,210.5 486.22,210.8" fill="#f04a4a" stroke="#ee2020" stroke-width="0.85"/>
<polyline points="492.82,210.9 492.88,210.7 492.94,210.6 493.00,210.3 493.06,209.8 493.12,209.1 493.18,208.0 493.24,206.6 493.30,204.8 493.36,202.7 493.42,200.8 493.48,199.7 493.54,199.9 493.60,201.4 493.66,203.4 493.72,205.4 493.78,207.1 493.84,208.4 493.90,209.4 493.96,210.0 494.02,210.4 494.08,210.6 494.14,210.8 494.20,210.9" fill="#f04a4a" stroke="#ee2020" stroke-width="0.85"/>
<polyline points="497.86,210.9 497.92,210.6 497.98,210.2 498.04,209.7 498.10,209.0 498.16,208.2 498.22,207.4 498.28,207.0 498.34,207.1 498.40,207.7 498.46,208.4 498.52,209.2 498.58,209.9 498.64,210.4 498.70,210.7 498.76,211.0" fill="#f04a4a" stroke="#ee2020" stroke-width="0.85"/>
<polyline points="505.90,210.9 505.96,210.6 506.02,210.3 506.08,209.9 506.14,209.6 506.20,209.5 506.26,209.6 506.32,209.9 506.38,210.3 506.44,210.6 506.50,210.9" fill="#f04a4a" stroke="#ee2020" stroke-width="0.85"/>
<polyline points="515.62,211.0 515.68,210.7 515.74,210.4 515.80,209.8 515.86,209.1 515.92,208.2 515.98,207.3 516.04,206.5 516.10,206.2 516.16,206.5 516.22,207.3 516.28,208.2 516.34,209.1 516.40,209.8 516.46,210.4 516.52,210.7 516.58,211.0" fill="#f04a4a" stroke="#ee2020" stroke-width="0.85"/>
<polyline points="518.86,210.9 518.92,210.6 518.98,210.2 519.04,209.5 519.10,208.8 519.16,207.9 519.22,207.1 519.28,206.6 519.34,206.7 519.40,207.3 519.46,208.2 519.52,209.0 519.58,209.8 519.64,210.3 519.70,210.7 519.76,211.0" fill="#f04a4a" stroke="#ee2020" stroke-width="0.85"/>
<polyline points="530.92,211.0 530.98,210.8 531.04,210.4 531.10,209.9 531.16,209.2 531.22,208.3 531.28,207.3 531.34,206.5 531.40,206.2 531.46,206.5 531.52,207.3 531.58,208.3 531.64,209.2 531.70,209.9 531.76,210.4 531.82,210.8 531.88,211.0" fill="#f04a4a" stroke="#ee2020" stroke-width="0.85"/>
<polyline points="541.54,211.1 541.60,211.1 541.66,211.0 541.72,210.9 541.78,210.9 541.84,210.8 541.90,210.6 541.96,210.5 542.02,210.3 542.08,210.1 542.14,209.7 542.20,209.2 542.26,208.4 542.32,207.1 542.38,205.2 542.44,202.7 542.50,199.4 542.56,195.8 542.62,192.4 542.68,190.4 542.74,190.8 542.80,193.3 542.86,196.8 542.92,200.3 542.98,203.3 543.04,205.5 543.10,207.1 543.16,208.1 543.22,208.7 543.28,209.0 543.34,209.2 543.40,209.2 543.46,209.2 543.52,209.1 543.58,209.0 543.64,208.7 543.70,208.4 543.76,207.9 543.82,207.1 543.88,205.9 543.94,204.1 544.00,201.4 544.06,197.6 544.12,192.5 544.18,186.2 544.24,179.3 544.30,172.6 544.36,168.1 544.42,167.3 544.48,170.8 544.54,177.0 544.60,184.1 544.66,190.6 544.72,196.2 544.78,200.4 544.84,203.5 544.90,205.6 544.96,207.0 545.02,208.0 545.08,208.7 545.14,209.1 545.20,209.5 545.26,209.8 545.32,210.0 545.38,210.2 545.44,210.3 545.50,210.5 545.56,210.6 545.62,210.7 545.68,210.8 545.74,210.9 545.80,210.9 545.86,211.0 545.92,211.0 545.98,211.1 546.04,211.1 546.10,211.2" fill="#f04a4a" stroke="#ee2020" stroke-width="0.85"/>
<polyline points="547.54,211.2 547.60,211.0 547.66,210.8 547.72,210.5 547.78,210.0 547.84,209.5 547.90,209.0 547.96,208.7 548.02,208.6 548.08,208.9 548.14,209.4 548.20,209.9 548.26,210.4 548.32,210.7 548.38,211.0 548.44,211.2" fill="#f04a4a" stroke="#ee2020" stroke-width="0.85"/>
<polyline points="551.38,211.2 551.44,211.1 551.50,211.0 551.56,211.0 551.62,210.9 551.68,210.8 551.74,210.7 551.80,210.5 551.86,210.4 551.92,210.2 551.98,209.9 552.04,209.6 552.10,209.0 552.16,208.3 552.22,207.2 552.28,205.5 552.34,203.1 552.40,199.9 552.46,195.8 552.52,191.1 552.58,186.3 552.64,182.4 552.70,180.9 552.76,182.4 552.82,186.3 552.88,191.1 552.94,195.8 553.00,199.9 553.06,203.1 553.12,205.5 553.18,207.2 553.24,208.3 553.30,209.0 553.36,209.5 553.42,209.9 553.48,210.2 553.54,210.4 553.60,210.5 553.66,210.7 553.72,210.8 553.78,210.9 553.84,210.9 553.90,211.0 553.96,211.1 554.02,211.1 554.08,211.2 554.14,211.2" fill="#f04a4a" stroke="#ee2020" stroke-width="0.85"/>
<polyline points="554.62,211.2 554.68,211.1 554.74,211.0 554.80,210.8 554.86,210.4 554.92,210.0 554.98,209.4 555.04,208.7 555.10,207.9 555.16,207.4 555.22,207.4 555.28,207.8 555.34,208.5 555.40,209.2 555.46,209.9 555.52,210.4 555.58,210.8 555.64,211.0" fill="#f04a4a" stroke="#ee2020" stroke-width="0.85"/>
<polyline points="586.36,211.2 586.42,211.1 586.48,210.8 586.54,210.5 586.60,209.9 586.66,209.1 586.72,207.9 586.78,206.3 586.84,204.5 586.90,202.6 586.96,201.3 587.02,201.1 587.08,202.1 587.14,203.8 587.20,205.7 587.26,207.4 587.32,208.7 587.38,209.7 587.44,210.3 587.50,210.7 587.56,211.0 587.62,211.2 587.68,211.3" fill="#f04a4a" stroke="#ee2020" stroke-width="0.85"/>
<polyline points="590.92,211.3 590.98,211.2 591.04,211.0 591.10,210.8 591.16,210.3 591.22,209.7 591.28,208.7 591.34,207.4 591.40,205.7 591.46,203.8 591.52,202.1 591.58,201.1 591.64,201.3 591.70,202.6 591.76,204.5 591.82,206.3 591.88,207.9 591.94,209.1 592.00,209.9 592.06,210.5 592.12,210.9 592.18,211.1 592.24,211.3" fill="#f04a4a" stroke="#ee2020" stroke-width="0.85"/>
<polyline points="598.90,211.3 598.96,211.1 599.02,210.8 599.08,210.4 599.14,209.8 599.20,208.9 599.26,207.6 599.32,206.1 599.38,204.5 599.44,203.1 599.50,202.6 599.56,203.1 599.62,204.5 599.68,206.1 599.74,207.6 599.80,208.8 599.86,209.8 599.92,210.4 599.98,210.8 600.04,211.1 600.10,211.2 600.16,211.4" fill="#f04a4a" stroke="#ee2020" stroke-width="0.85"/>
<polyline points="601.18,211.3 601.24,211.2 601.30,210.9 601.36,210.5 601.42,209.9 601.48,209.1 601.54,208.2 601.60,207.2 601.66,206.6 601.72,206.5 601.78,207.0 601.84,207.8 601.90,208.8 601.96,209.6 602.02,210.3 602.08,210.8 602.14,211.1 602.20,211.3" fill="#f04a4a" stroke="#ee2020" stroke-width="0.85"/>
<polyline points="603.58,211.3 603.64,211.1 603.70,210.7 603.76,210.2 603.82,209.6 603.88,209.0 603.94,208.5 604.00,208.3 604.06,208.5 604.12,209.0 604.18,209.6 604.24,210.3 604.30,210.7 604.36,211.1 604.42,211.4" fill="#f04a4a" stroke="#ee2020" stroke-width="0.85"/>
<polyline points="611.98,211.4 612.04,211.3 612.10,211.3 612.16,211.2 612.22,211.2 612.28,211.1 612.34,211.1 612.40,211.0 612.46,210.9 612.52,210.9 612.58,210.8 612.64,210.8 612.70,210.7 612.76,210.7 612.82,210.6 612.88,210.6 612.94,210.6 613.00,210.6 613.06,210.6 613.12,210.6 613.18,210.6 613.24,210.7 613.30,210.7 613.36,210.7 613.42,210.8 613.48,210.9 613.54,210.9 613.60,211.0 613.66,211.0 613.72,211.1 613.78,211.2 613.84,211.2 613.90,211.3 613.96,211.3 614.02,211.4 614.08,211.4" fill="#f04a4a" stroke="#ee2020" stroke-width="0.85"/>
<polyline points="616.96,211.4 617.02,211.4 617.08,211.3 617.14,211.3 617.20,211.2 617.26,211.1 617.32,211.1 617.38,211.0 617.44,210.9 617.50,210.9 617.56,210.8 617.62,210.8 617.68,210.7 617.74,210.7 617.80,210.6 617.86,210.6 617.92,210.6 617.98,210.6 618.04,210.6 618.10,210.6 618.16,210.6 618.22,210.6 618.28,210.7 618.34,210.7 618.40,210.8 618.46,210.9 618.52,210.9 618.58,211.0 618.64,211.0 618.70,211.1 618.76,211.2 618.82,211.2 618.88,211.3 618.94,211.3 619.00,211.4 619.06,211.5" fill="#f04a4a" stroke="#ee2020" stroke-width="0.85"/>
<polyline points="629.08,211.5 629.14,211.4 629.20,211.4 629.26,211.3 629.32,211.2 629.38,211.2 629.44,211.1 629.50,211.1 629.56,211.0 629.62,211.0 629.68,210.9 629.74,210.9 629.80,210.8 629.86,210.8 629.92,210.8 629.98,210.8 630.04,210.8 630.10,210.8 630.16,210.8 630.22,210.9 630.28,210.9 630.34,210.9 630.40,211.0 630.46,211.0 630.52,211.1 630.58,211.2 630.64,211.2 630.70,211.3 630.76,211.3 630.82,211.4 630.88,211.4 630.94,211.5" fill="#f04a4a" stroke="#ee2020" stroke-width="0.85"/>
<polyline points="657.82,211.6 657.88,211.3 657.94,210.9 658.00,210.4 658.06,209.8 658.12,209.3 658.18,209.0 658.24,209.1 658.30,209.5 658.36,210.0 658.42,210.6 658.48,211.0 658.54,211.4" fill="#f04a4a" stroke="#ee2020" stroke-width="0.85"/>
<polyline points="361.00,211.17 361.35,211.47 361.70,211.65 362.05,211.75 362.40,211.61 362.75,211.59 363.10,211.52 363.45,211.37 363.80,210.98 364.15,210.76 364.50,210.53 364.85,210.50 365.20,210.62 365.55,210.71 365.90,210.62 366.25,210.57 366.60,210.49 366.95,210.38 367.30,210.33 367.65,210.53 368.00,210.62 368.35,210.72 368.70,211.03 369.05,211.08 369.40,211.12 369.75,210.98 370.10,210.79 370.45,210.81 370.80,210.76 371.15,210.94 371.50,211.34 371.85,211.49 372.20,211.36 372.55,211.59 372.90,211.69 373.25,211.69 373.60,211.73 373.95,211.65 374.30,211.58 374.65,211.29 375.00,211.39 375.35,211.49 375.70,211.19 376.05,211.31 376.40,211.41 376.75,211.40 377.10,211.43 377.45,211.43 377.80,211.62 378.15,211.50 378.50,211.51 378.85,211.19 379.20,211.09 379.55,210.18 379.90,208.93 380.25,210.48 380.60,210.79 380.95,210.84 381.30,210.79 381.65,210.67 382.00,210.67 382.35,210.90 382.70,210.83 383.05,211.16 383.40,211.08 383.75,211.35 384.10,211.24 384.45,211.48 384.80,211.54 385.15,211.49 385.50,211.46 385.85,211.47 386.20,211.17 386.55,209.21 386.90,209.11 387.25,211.08 387.60,211.39 387.95,209.74 388.30,208.98 388.65,210.82 389.00,211.18 389.35,211.23 389.70,210.85 390.05,210.81 390.40,210.45 390.75,210.50 391.10,210.39 391.45,210.31 391.80,210.57 392.15,210.08 392.50,208.33 392.85,209.32 393.20,210.74 393.55,210.81 393.90,211.10 394.25,211.04 394.60,211.12 394.95,210.82 395.30,210.77 395.65,210.66 396.00,210.86 396.35,210.74 396.70,211.12 397.05,210.97 397.40,211.22 397.75,211.05 398.10,211.02 398.45,211.26 398.80,211.09 399.15,210.96 399.50,211.10 399.85,211.05 400.20,210.86 400.55,211.22 400.90,211.11 401.25,211.01 401.60,211.11 401.95,211.33 402.30,211.55 402.65,211.35 403.00,211.22 403.35,210.60 403.70,208.55 404.05,209.48 404.40,210.78 404.75,210.94 405.10,210.88 405.45,210.88 405.80,210.82 406.15,210.68 406.50,210.45 406.85,209.98 407.20,209.27 407.55,210.41 407.90,210.72 408.25,211.09 408.60,210.98 408.95,211.13 409.30,211.13 409.65,211.20 410.00,211.07 410.35,211.41 410.70,211.33 411.05,211.48 411.40,211.52 411.75,211.37 412.10,211.54 412.45,211.43 412.80,211.28 413.15,211.11 413.50,210.99 413.85,210.80 414.20,210.87 414.55,210.81 414.90,210.96 415.25,211.03 415.60,211.07 415.95,210.59 416.30,209.61 416.65,208.48 417.00,208.63 417.35,210.12 417.70,211.03 418.05,211.29 418.40,210.96 418.75,209.56 419.10,210.61 419.45,210.74 419.80,210.52 420.15,210.51 420.50,210.35 420.85,210.55 421.20,210.49 421.55,210.42 421.90,210.45 422.25,210.53 422.60,210.61 422.95,210.83 423.30,210.98 423.65,211.00 424.00,211.18 424.35,211.09 424.70,211.38 425.05,211.63 425.40,211.73 425.75,211.69 426.10,211.73 426.45,211.83 426.80,211.66 427.15,211.72 427.50,211.79 427.85,211.61 428.20,211.28 428.55,210.33 428.90,210.38 429.25,211.09 429.60,211.21 429.95,211.06 430.30,210.75 430.65,210.87 431.00,210.67 431.35,210.37 431.70,210.43 432.05,209.31 432.40,208.22 432.75,210.56 433.10,211.03 433.45,210.90 433.80,210.99 434.15,211.01 434.50,211.03 434.85,210.88 435.20,210.89 435.55,210.46 435.90,208.48 436.25,208.56 436.60,209.92 436.95,210.90 437.30,211.34 437.65,211.31 438.00,211.43 438.35,211.38 438.70,211.28 439.05,211.17 439.40,209.89 439.75,208.66 440.10,208.46 440.45,210.28 440.80,210.85 441.15,211.11 441.50,211.47 441.85,211.48 442.20,211.29 442.55,211.46 442.90,211.63 443.25,211.68 443.60,211.56 443.95,211.32 444.30,211.12 444.65,211.09 445.00,210.74 445.35,210.59 445.70,210.44 446.05,210.57 446.40,210.63 446.75,210.76 447.10,210.84 447.45,210.66 447.80,210.50 448.15,210.49 448.50,210.31 448.85,210.18 449.20,209.89 449.55,209.13 449.90,209.16 450.25,209.84 450.60,209.57 450.95,209.24 451.30,209.45 451.65,209.32 452.00,209.38 452.35,209.25 452.70,209.14 453.05,209.43 453.40,209.64 453.75,209.55 454.10,209.16 454.45,208.88 454.80,208.59 455.15,208.57 455.50,208.54 455.85,208.42 456.20,208.41 456.55,208.24 456.90,208.37 457.25,209.06 457.60,209.48 457.95,209.44 458.30,209.52 458.65,209.50 459.00,208.92 459.35,209.02 459.70,208.91 460.05,208.92 460.40,208.78 460.75,208.98 461.10,209.04 461.45,209.01 461.80,209.37 462.15,209.98 462.50,210.16 462.85,210.55 463.20,210.97 463.55,210.91 463.90,211.02 464.25,211.07 464.60,211.06 464.95,211.20 465.30,211.44 465.65,211.53 466.00,211.67 466.35,211.94 466.70,211.87 467.05,212.06 467.40,212.16 467.75,212.29 468.10,212.39 468.45,212.10 468.80,212.01 469.15,211.76 469.50,211.63 469.85,211.63 470.20,211.41 470.55,210.92 470.90,210.78 471.25,210.82 471.60,210.98 471.95,211.03 472.30,211.20 472.65,210.99 473.00,211.31 473.35,211.47 473.70,211.53 474.05,211.71 474.40,211.84 474.75,211.53 475.10,211.65 475.45,211.72 475.80,211.49 476.15,211.58 476.50,211.53 476.85,211.14 477.20,210.62 477.55,209.40 477.90,209.51 478.25,209.48 478.60,210.40 478.95,211.14 479.30,211.31 479.65,211.17 480.00,211.40 480.35,211.09 480.70,210.83 481.05,210.90 481.40,211.17 481.75,211.33 482.10,211.54 482.45,211.59 482.80,211.74 483.15,211.67 483.50,211.56 483.85,211.55 484.20,211.25 484.55,210.98 484.90,211.02 485.25,210.54 485.60,208.54 485.95,208.63 486.30,210.53 486.65,210.94 487.00,211.19 487.35,211.42 487.70,211.26 488.05,211.17 488.40,211.22 488.75,211.31 489.10,211.28 489.45,211.11 489.80,211.26 490.15,211.59 490.50,211.55 490.85,211.63 491.20,211.65 491.55,211.72 491.90,212.00 492.25,211.90 492.60,211.88 492.95,211.26 493.30,209.79 493.65,209.92 494.00,210.73 494.35,211.58 494.70,211.45 495.05,211.40 495.40,211.38 495.75,211.27 496.10,211.06 496.45,211.15 496.80,210.87 497.15,210.96 497.50,210.89 497.85,210.57 498.20,208.99 498.55,209.67 498.90,211.39 499.25,211.44 499.60,211.35 499.95,211.35 500.30,211.24 500.65,211.17 501.00,211.49 501.35,211.32 501.70,211.59 502.05,211.60 502.40,211.62 502.75,211.63 503.10,211.51 503.45,211.60 503.80,211.49 504.15,211.50 504.50,211.41 504.85,211.60 505.20,211.74 505.55,211.55 505.90,211.02 506.25,209.91 506.60,211.44 506.95,211.58 507.30,211.62 507.65,211.63 508.00,211.87 508.35,211.88 508.70,211.83 509.05,211.95 509.40,211.69 509.75,211.71 510.10,211.58 510.45,211.33 510.80,211.33 511.15,211.10 511.50,211.21 511.85,211.36 512.20,211.29 512.55,211.39 512.90,211.62 513.25,211.72 513.60,211.81 513.95,211.95 514.30,212.07 514.65,212.06 515.00,212.14 515.35,211.78 515.70,211.05 516.05,209.62 516.40,210.25 516.75,211.72 517.10,211.83 517.45,212.24 517.80,212.21 518.15,212.20 518.50,212.29 518.85,211.53 519.20,209.86 519.55,209.74 519.90,211.19 520.25,211.21 520.60,211.12 520.95,211.31 521.30,211.45 521.65,211.53 522.00,211.47 522.35,211.52 522.70,211.45 523.05,211.71 523.40,211.70 523.75,211.62 524.10,211.71 524.45,211.50 524.80,211.39 525.15,211.58 525.50,211.29 525.85,211.09 526.20,210.98 526.55,210.95 526.90,211.04 527.25,211.06 527.60,211.14 527.95,211.18 528.30,211.22 528.65,211.43 529.00,211.43 529.35,211.44 529.70,211.61 530.05,211.37 530.40,211.20 530.75,211.30 531.10,209.86 531.45,209.42 531.80,210.82 532.15,211.74 532.50,212.18 532.85,212.22 533.20,212.43 533.55,212.47 533.90,212.33 534.25,212.45 534.60,212.16 534.95,211.91 535.30,211.73 535.65,211.41 536.00,211.41 536.35,211.29 536.70,211.22 537.05,211.18 537.40,211.42 537.75,211.64 538.10,211.77 538.45,211.69 538.80,211.62 539.15,211.62 539.50,211.37 539.85,211.20 540.20,211.50 540.55,211.27 540.90,211.48 541.25,211.48 541.60,211.49 541.95,210.73 542.30,209.44 542.65,209.71 543.00,209.51 543.35,209.40 543.70,209.41 544.05,209.29 544.40,209.13 544.75,209.23 545.10,208.97 545.45,210.30 545.80,210.86 546.15,210.84 546.50,211.22 546.85,211.19 547.20,211.28 547.55,211.17 547.90,209.22 548.25,210.38 548.60,211.34 548.95,211.40 549.30,211.70 549.65,211.79 550.00,211.64 550.35,211.54 550.70,211.49 551.05,211.01 551.40,210.69 551.75,209.98 552.10,208.46 552.45,208.38 552.80,208.41 553.15,208.38 553.50,209.40 553.85,210.27 554.20,210.76 554.55,211.06 554.90,210.24 555.25,209.47 555.60,211.04 555.95,211.87 556.30,211.82 556.65,211.78 557.00,212.13 557.35,212.33 557.70,212.29 558.05,212.34 558.40,212.32 558.75,212.33 559.10,212.27 559.45,212.14 559.80,212.17 560.15,212.13 560.50,211.92 560.85,211.68 561.20,211.41 561.55,211.46 561.90,211.63 562.25,211.43 562.60,211.56 562.95,211.70 563.30,211.81 563.65,211.59 564.00,211.68 564.35,211.57 564.70,211.46 565.05,211.55 565.40,211.63 565.75,211.68 566.10,211.78 566.45,211.86 566.80,211.84 567.15,211.64 567.50,211.88 567.85,212.12 568.20,212.31 568.55,212.33 568.90,212.05 569.25,211.89 569.60,211.70 569.95,211.80 570.30,211.80 570.65,211.63 571.00,211.90 571.35,212.14 571.70,212.33 572.05,212.30 572.40,212.24 572.75,212.18 573.10,212.46 573.45,212.60 573.80,212.46 574.15,212.61 574.50,212.50 574.85,212.26 575.20,212.01 575.55,211.92 575.90,211.69 576.25,211.59 576.60,211.25 576.95,211.31 577.30,211.18 577.65,211.44 578.00,211.32 578.35,211.32 578.70,211.45 579.05,211.49 579.40,211.58 579.75,211.85 580.10,211.69 580.45,211.87 580.80,211.98 581.15,212.14 581.50,212.13 581.85,212.17 582.20,212.18 582.55,212.29 582.90,212.28 583.25,212.24 583.60,212.33 583.95,212.21 584.30,212.20 584.65,212.17 585.00,211.95 585.35,211.64 585.70,211.55 586.05,211.50 586.40,210.80 586.75,209.13 587.10,209.22 587.45,210.42 587.80,211.59 588.15,211.73 588.50,211.73 588.85,212.00 589.20,211.91 589.55,211.65 589.90,211.82 590.25,211.53 590.60,211.26 590.95,210.77 591.30,208.82 591.65,208.97 592.00,209.39 592.35,210.93 592.70,211.24 593.05,211.61 593.40,211.48 593.75,211.65 594.10,211.56 594.45,211.48 594.80,211.64 595.15,211.63 595.50,211.48 595.85,211.63 596.20,211.94 596.55,212.08 596.90,212.15 597.25,212.40 597.60,212.68 597.95,212.51 598.30,212.42 598.65,212.55 599.00,212.04 599.35,210.27 599.70,210.22 600.05,211.81 600.40,212.04 600.75,211.93 601.10,211.49 601.45,209.16 601.80,208.88 602.15,210.30 602.50,210.98 602.85,210.96 603.20,211.13 603.55,210.85 603.90,209.02 604.25,210.19 604.60,211.51 604.95,211.67 605.30,211.67 605.65,211.57 606.00,211.50 606.35,211.63 606.70,211.89 607.05,211.77 607.40,212.14 607.75,212.31 608.10,212.15 608.45,212.35 608.80,212.34 609.15,212.35 609.50,212.11 609.85,212.08 610.20,212.02 610.55,212.06 610.90,211.95 611.25,211.90 611.60,211.81 611.95,211.40 612.30,210.88 612.65,210.66 613.00,210.45 613.35,210.61 613.70,211.05 614.05,211.52 614.40,211.86 614.75,212.03 615.10,212.21 615.45,211.84 615.80,211.72 616.15,211.32 616.50,211.23 616.85,210.93 617.20,210.42 617.55,210.02 617.90,209.96 618.25,210.11 618.60,210.75 618.95,211.07 619.30,211.30 619.65,211.74 620.00,211.87 620.35,211.70 620.70,211.92 621.05,211.89 621.40,212.20 621.75,212.32 622.10,212.54 622.45,212.81 622.80,212.85 623.15,213.13 623.50,212.87 623.85,212.81 624.20,212.96 624.55,212.60 624.90,212.59 625.25,212.67 625.60,212.53 625.95,212.44 626.30,211.96 626.65,211.83 627.00,211.77 627.35,211.67 627.70,211.61 628.05,211.77 628.40,211.55 628.75,211.25 629.10,211.17 629.45,211.15 629.80,211.02 630.15,211.00 630.50,211.04 630.85,211.50 631.20,211.43 631.55,211.46 631.90,211.74 632.25,212.02 632.60,212.00 632.95,212.27 633.30,212.09 633.65,212.20 634.00,212.02 634.35,211.95 634.70,211.85 635.05,211.66 635.40,211.70 635.75,211.77 636.10,211.72 636.45,211.90 636.80,211.77 637.15,211.95 637.50,212.15 637.85,212.28 638.20,212.66 638.55,212.57 638.90,212.63 639.25,212.66 639.60,212.58 639.95,212.74 640.30,212.60 640.65,212.39 641.00,212.14 641.35,211.91 641.70,211.99 642.05,211.97 642.40,211.91 642.75,211.65 643.10,211.70 643.45,211.54 643.80,211.56 644.15,211.42 644.50,211.67 644.85,211.99 645.20,212.05 645.55,212.07 645.90,211.94 646.25,211.96 646.60,212.01 646.95,212.08 647.30,212.10 647.65,212.13 648.00,212.46 648.35,212.82 648.70,213.03 649.05,213.06 649.40,212.74 649.75,212.59 650.10,212.69 650.45,212.77 650.80,212.57 651.15,212.41 651.50,212.34 651.85,212.09 652.20,212.16 652.55,212.08 652.90,212.31 653.25,212.32 653.60,212.46 653.95,212.51 654.30,212.53 654.65,212.47 655.00,212.64 655.35,212.61 655.70,212.38 656.05,212.21 656.40,212.26 656.75,212.20 657.10,212.11 657.45,212.16 657.80,211.42 658.15,209.56 658.50,211.07 658.85,211.92 659.20,212.28 659.55,212.50 659.90,212.36 660.25,212.35 660.60,212.42 660.95,212.44 661.30,212.32 661.65,212.48 662.00,212.43 662.35,212.34 662.70,212.59 663.05,212.81 663.40,212.88 663.75,212.98 664.10,213.28 664.45,213.36 664.80,213.16 665.15,213.19 665.50,212.96 665.85,212.64 666.20,212.46 666.55,212.37 666.90,212.35 667.25,212.23 667.60,212.17 667.95,212.02 668.30,211.77 668.65,211.81 669.00,211.70 669.35,212.03 669.70,211.99 670.05,212.07 670.40,212.18 670.75,211.98 671.10,212.16 671.45,212.04 671.80,211.86 672.15,212.02 672.50,212.08 672.85,212.41 673.20,212.46 673.55,212.34 673.90,212.21 674.25,212.10 674.60,212.23 674.95,212.39 675.30,212.14 675.65,212.06 676.00,212.05" fill="none" stroke="#141414" stroke-width="2.2" stroke-linejoin="round"/>
<g fill="none" stroke="#858585" stroke-width="0.55"><circle cx="379.83" cy="209.11" r="0.85"/><circle cx="386.73" cy="205.60" r="0.85"/><circle cx="388.17" cy="206.55" r="0.85"/><circle cx="386.55" cy="207.39" r="0.85"/><circle cx="387.99" cy="208.37" r="0.85"/><circle cx="386.70" cy="206.02" r="0.85"/><circle cx="388.32" cy="207.16" r="0.85"/><circle cx="386.52" cy="207.80" r="0.85"/><circle cx="387.96" cy="209.13" r="0.85"/><circle cx="392.63" cy="206.78" r="0.85"/><circle cx="392.81" cy="208.87" r="0.85"/><circle cx="403.83" cy="207.31" r="0.85"/><circle cx="416.83" cy="197.86" r="0.85"/><circle cx="416.92" cy="200.75" r="0.85"/><circle cx="417.01" cy="203.62" r="0.85"/><circle cx="417.10" cy="206.49" r="0.85"/><circle cx="417.19" cy="208.86" r="0.85"/><circle cx="435.93" cy="207.72" r="0.85"/><circle cx="432.24" cy="208.39" r="0.85"/><circle cx="439.83" cy="202.82" r="0.85"/><circle cx="436.23" cy="203.00" r="0.85"/><circle cx="436.32" cy="205.18" r="0.85"/><circle cx="439.65" cy="205.75" r="0.85"/><circle cx="435.96" cy="207.39" r="0.85"/><circle cx="439.47" cy="209.31" r="0.85"/><circle cx="435.87" cy="209.35" r="0.85"/><circle cx="439.83" cy="202.87" r="0.85"/><circle cx="436.23" cy="203.29" r="0.85"/><circle cx="439.92" cy="204.60" r="0.85"/><circle cx="440.01" cy="206.51" r="0.85"/><circle cx="436.41" cy="207.15" r="0.85"/><circle cx="440.10" cy="208.64" r="0.85"/><circle cx="453.33" cy="147.87" r="0.85"/><circle cx="453.24" cy="165.29" r="0.85"/><circle cx="453.15" cy="178.16" r="0.85"/><circle cx="453.06" cy="187.10" r="0.85"/><circle cx="452.97" cy="193.13" r="0.85"/><circle cx="452.88" cy="196.72" r="0.85"/><circle cx="452.79" cy="198.76" r="0.85"/><circle cx="452.70" cy="201.02" r="0.85"/><circle cx="452.52" cy="203.34" r="0.85"/><circle cx="449.64" cy="205.65" r="0.85"/><circle cx="452.16" cy="205.87" r="0.85"/><circle cx="451.71" cy="207.67" r="0.85"/><circle cx="449.46" cy="207.87" r="0.85"/><circle cx="450.90" cy="209.41" r="0.85"/><circle cx="454.00" cy="119.09" r="0.85"/><circle cx="454.09" cy="134.82" r="0.85"/><circle cx="453.37" cy="139.05" r="0.85"/><circle cx="454.18" cy="144.84" r="0.85"/><circle cx="454.27" cy="150.53" r="0.85"/><circle cx="454.36" cy="152.95" r="0.85"/><circle cx="454.54" cy="154.78" r="0.85"/><circle cx="453.28" cy="158.51" r="0.85"/><circle cx="454.72" cy="164.03" r="0.85"/><circle cx="454.81" cy="170.13" r="0.85"/><circle cx="453.19" cy="172.70" r="0.85"/><circle cx="454.90" cy="177.26" r="0.85"/><circle cx="454.99" cy="183.49" r="0.85"/><circle cx="453.10" cy="183.61" r="0.85"/><circle cx="455.08" cy="189.00" r="0.85"/><circle cx="453.01" cy="190.84" r="0.85"/><circle cx="455.17" cy="193.34" r="0.85"/><circle cx="452.92" cy="194.79" r="0.85"/><circle cx="455.26" cy="196.69" r="0.85"/><circle cx="452.83" cy="197.92" r="0.85"/><circle cx="455.35" cy="199.54" r="0.85"/><circle cx="452.74" cy="200.22" r="0.85"/><circle cx="455.44" cy="201.33" r="0.85"/><circle cx="452.65" cy="201.93" r="0.85"/><circle cx="452.47" cy="203.92" r="0.85"/><circle cx="455.62" cy="204.06" r="0.85"/><circle cx="452.11" cy="205.83" r="0.85"/><circle cx="455.89" cy="206.03" r="0.85"/><circle cx="451.75" cy="207.69" r="0.85"/><circle cx="456.34" cy="207.86" r="0.85"/><circle cx="450.58" cy="209.05" r="0.85"/><circle cx="460.43" cy="151.31" r="0.85"/><circle cx="460.52" cy="157.43" r="0.85"/><circle cx="460.25" cy="160.86" r="0.85"/><circle cx="460.61" cy="167.81" r="0.85"/><circle cx="460.16" cy="171.68" r="0.85"/><circle cx="460.70" cy="178.78" r="0.85"/><circle cx="460.07" cy="182.67" r="0.85"/><circle cx="460.79" cy="188.89" r="0.85"/><circle cx="459.98" cy="190.76" r="0.85"/><circle cx="460.88" cy="195.91" r="0.85"/><circle cx="459.89" cy="197.66" r="0.85"/><circle cx="460.97" cy="200.41" r="0.85"/><circle cx="459.80" cy="201.66" r="0.85"/><circle cx="461.06" cy="203.23" r="0.85"/><circle cx="459.71" cy="204.36" r="0.85"/><circle cx="461.15" cy="205.77" r="0.85"/><circle cx="459.53" cy="206.68" r="0.85"/><circle cx="461.33" cy="207.52" r="0.85"/><circle cx="456.83" cy="208.37" r="0.85"/><circle cx="459.17" cy="208.38" r="0.85"/><circle cx="461.69" cy="209.44" r="0.85"/><circle cx="477.93" cy="184.92" r="0.85"/><circle cx="478.02" cy="189.45" r="0.85"/><circle cx="477.75" cy="192.38" r="0.85"/><circle cx="478.11" cy="196.41" r="0.85"/><circle cx="477.66" cy="199.26" r="0.85"/><circle cx="478.20" cy="202.75" r="0.85"/><circle cx="478.29" cy="205.92" r="0.85"/><circle cx="477.48" cy="207.42" r="0.85"/><circle cx="478.47" cy="209.51" r="0.85"/><circle cx="485.83" cy="206.68" r="0.85"/><circle cx="486.01" cy="209.38" r="0.85"/><circle cx="493.53" cy="200.01" r="0.85"/><circle cx="493.62" cy="202.33" r="0.85"/><circle cx="493.71" cy="205.44" r="0.85"/><circle cx="493.80" cy="207.67" r="0.85"/><circle cx="493.89" cy="209.49" r="0.85"/><circle cx="498.33" cy="206.86" r="0.85"/><circle cx="498.51" cy="209.18" r="0.85"/><circle cx="516.04" cy="206.14" r="0.85"/><circle cx="519.28" cy="206.74" r="0.85"/><circle cx="515.95" cy="208.08" r="0.85"/><circle cx="519.10" cy="208.60" r="0.85"/><circle cx="516.09" cy="206.34" r="0.85"/><circle cx="519.24" cy="206.78" r="0.85"/><circle cx="515.91" cy="208.77" r="0.85"/><circle cx="519.51" cy="209.07" r="0.85"/><circle cx="531.34" cy="206.25" r="0.85"/><circle cx="531.16" cy="208.99" r="0.85"/><circle cx="544.44" cy="168.39" r="0.85"/><circle cx="544.53" cy="175.56" r="0.85"/><circle cx="544.62" cy="186.48" r="0.85"/><circle cx="542.73" cy="190.78" r="0.85"/><circle cx="542.82" cy="194.42" r="0.85"/><circle cx="544.71" cy="195.46" r="0.85"/><circle cx="542.55" cy="196.78" r="0.85"/><circle cx="542.91" cy="200.12" r="0.85"/><circle cx="543.99" cy="201.50" r="0.85"/><circle cx="543.00" cy="204.42" r="0.85"/><circle cx="544.89" cy="205.25" r="0.85"/><circle cx="543.09" cy="206.93" r="0.85"/><circle cx="544.98" cy="207.20" r="0.85"/><circle cx="543.27" cy="208.63" r="0.85"/><circle cx="545.16" cy="209.58" r="0.85"/><circle cx="544.43" cy="167.47" r="0.85"/><circle cx="544.52" cy="174.43" r="0.85"/><circle cx="544.25" cy="177.85" r="0.85"/><circle cx="544.61" cy="185.47" r="0.85"/><circle cx="544.16" cy="188.43" r="0.85"/><circle cx="542.72" cy="190.54" r="0.85"/><circle cx="542.81" cy="194.01" r="0.85"/><circle cx="544.70" cy="194.51" r="0.85"/><circle cx="544.07" cy="196.48" r="0.85"/><circle cx="542.90" cy="198.94" r="0.85"/><circle cx="544.79" cy="201.12" r="0.85"/><circle cx="542.45" cy="201.98" r="0.85"/><circle cx="542.99" cy="204.02" r="0.85"/><circle cx="544.88" cy="204.83" r="0.85"/><circle cx="542.36" cy="205.76" r="0.85"/><circle cx="543.80" cy="207.08" r="0.85"/><circle cx="547.94" cy="208.46" r="0.85"/><circle cx="545.06" cy="208.84" r="0.85"/><circle cx="543.26" cy="208.97" r="0.85"/><circle cx="544.43" cy="167.77" r="0.85"/><circle cx="544.52" cy="174.85" r="0.85"/><circle cx="544.61" cy="185.10" r="0.85"/><circle cx="544.70" cy="194.83" r="0.85"/><circle cx="544.79" cy="201.10" r="0.85"/><circle cx="544.88" cy="205.40" r="0.85"/><circle cx="544.97" cy="207.17" r="0.85"/><circle cx="547.94" cy="208.57" r="0.85"/><circle cx="545.15" cy="208.88" r="0.85"/><circle cx="552.73" cy="181.10" r="0.85"/><circle cx="552.82" cy="186.13" r="0.85"/><circle cx="552.55" cy="188.74" r="0.85"/><circle cx="552.91" cy="193.33" r="0.85"/><circle cx="552.46" cy="195.69" r="0.85"/><circle cx="553.00" cy="199.59" r="0.85"/><circle cx="552.37" cy="201.35" r="0.85"/><circle cx="553.09" cy="204.47" r="0.85"/><circle cx="555.16" cy="207.12" r="0.85"/><circle cx="553.18" cy="207.13" r="0.85"/><circle cx="552.10" cy="209.13" r="0.85"/><circle cx="554.98" cy="209.71" r="0.85"/><circle cx="552.71" cy="181.07" r="0.85"/><circle cx="552.62" cy="183.57" r="0.85"/><circle cx="552.53" cy="189.93" r="0.85"/><circle cx="552.89" cy="192.23" r="0.85"/><circle cx="552.44" cy="196.93" r="0.85"/><circle cx="552.98" cy="198.81" r="0.85"/><circle cx="552.35" cy="202.26" r="0.85"/><circle cx="552.26" cy="206.39" r="0.85"/><circle cx="555.23" cy="207.41" r="0.85"/><circle cx="553.25" cy="208.76" r="0.85"/><circle cx="555.41" cy="209.14" r="0.85"/><circle cx="587.03" cy="201.34" r="0.85"/><circle cx="586.85" cy="204.36" r="0.85"/><circle cx="587.21" cy="206.16" r="0.85"/><circle cx="587.30" cy="207.94" r="0.85"/><circle cx="591.63" cy="201.26" r="0.85"/><circle cx="591.72" cy="203.27" r="0.85"/><circle cx="591.81" cy="206.29" r="0.85"/><circle cx="591.27" cy="208.59" r="0.85"/><circle cx="599.53" cy="202.91" r="0.85"/><circle cx="599.62" cy="204.75" r="0.85"/><circle cx="599.71" cy="206.60" r="0.85"/><circle cx="601.78" cy="206.79" r="0.85"/><circle cx="599.80" cy="208.60" r="0.85"/><circle cx="601.51" cy="208.91" r="0.85"/><circle cx="599.48" cy="202.91" r="0.85"/><circle cx="599.66" cy="205.52" r="0.85"/><circle cx="601.64" cy="206.68" r="0.85"/><circle cx="599.75" cy="207.96" r="0.85"/><circle cx="603.98" cy="208.20" r="0.85"/><circle cx="601.91" cy="209.12" r="0.85"/><circle cx="603.80" cy="210.14" r="0.85"/><circle cx="601.69" cy="206.35" r="0.85"/><circle cx="601.87" cy="208.16" r="0.85"/><circle cx="604.03" cy="208.51" r="0.85"/><circle cx="604.21" cy="210.22" r="0.85"/><circle cx="658.14" cy="209.34" r="0.85"/><circle cx="453.60" cy="68.80" r="0.8"/></g>
<polyline points="361.00,222.9 361.30,223.0 361.60,223.0 361.90,222.9 362.20,223.1 362.50,223.1 362.80,222.9 363.10,223.0 363.40,222.8 363.70,222.7 364.00,223.0 364.30,223.2 364.60,223.0 364.90,223.1 365.20,222.9 365.50,223.0 365.80,222.9 366.10,222.7 366.40,222.8 366.70,222.9 367.00,223.1 367.30,222.9 367.60,222.8 367.90,222.7 368.20,222.7 368.50,222.7 368.80,223.0 369.10,223.2 369.40,223.0 369.70,223.0 370.00,223.0 370.30,223.0 370.60,223.2 370.90,223.3 371.20,223.0 371.50,222.9 371.80,223.0 372.10,223.1 372.40,223.0 372.70,223.2 373.00,222.9 373.30,222.9 373.60,223.1 373.90,222.9 374.20,222.8 374.50,222.9 374.80,222.8 375.10,222.9 375.40,222.8 375.70,222.7 376.00,222.8 376.30,223.0 376.60,223.1 376.90,223.1 377.20,223.1 377.50,223.0 377.80,223.2 378.10,223.2 378.40,223.2 378.70,222.9 379.00,222.8 379.30,222.9 379.60,223.2 379.90,223.2 380.20,222.9 380.50,223.1 380.80,222.9 381.10,223.0 381.40,222.8 381.70,222.7 382.00,223.0 382.30,223.0 382.60,223.0 382.90,223.1 383.20,223.1 383.50,223.0 383.80,222.9 384.10,223.0 384.40,222.9 384.70,222.8 385.00,223.0 385.30,222.9 385.60,223.1 385.90,223.1 386.20,223.1 386.50,223.2 386.80,223.0 387.10,222.8 387.40,223.0 387.70,223.1 388.00,223.2 388.30,223.3 388.60,223.1 388.90,223.0 389.20,223.1 389.50,223.2 389.80,223.0 390.10,223.1 390.40,223.3 390.70,223.0 391.00,222.8 391.30,222.7 391.60,222.9 391.90,222.8 392.20,223.1 392.50,222.9 392.80,223.1 393.10,223.0 393.40,223.2 393.70,223.0 394.00,222.8 394.30,223.0 394.60,222.9 394.90,223.2 395.20,223.3 395.50,223.0 395.80,223.0 396.10,223.0 396.40,223.2 396.70,223.0 397.00,223.0 397.30,223.0 397.60,223.1 397.90,223.1 398.20,223.0 398.50,222.9 398.80,222.9 399.10,223.2 399.40,223.1 399.70,222.9 400.00,222.9 400.30,223.1 400.60,223.1 400.90,222.9 401.20,222.9 401.50,222.9 401.80,223.1 402.10,223.0 402.40,223.2 402.70,223.3 403.00,222.9 403.30,222.9 403.60,223.0 403.90,223.1 404.20,223.2 404.50,223.0 404.80,223.2 405.10,222.8 405.40,223.1 405.70,222.9 406.00,222.7 406.30,223.0 406.60,223.2 406.90,223.2 407.20,223.3 407.50,223.1 407.80,222.9 408.10,223.0 408.40,223.2 408.70,223.0 409.00,222.9 409.30,222.8 409.60,222.8 409.90,223.1 410.20,222.8 410.50,222.6 410.80,222.6 411.10,222.9 411.40,223.0 411.70,223.1 412.00,223.2 412.30,223.3 412.60,223.2 412.90,222.9 413.20,222.7 413.50,222.8 413.80,222.7 414.10,222.7 414.40,222.7 414.70,223.1 415.00,223.3 415.30,223.2 415.60,223.1 415.90,223.0 416.20,222.8 416.50,222.9 416.80,222.7 417.10,222.9 417.40,223.1 417.70,223.0 418.00,223.1 418.30,223.2 418.60,223.3 418.90,223.1 419.20,222.9 419.50,223.2 419.80,223.1 420.10,222.9 420.40,223.1 420.70,223.2 421.00,223.4 421.30,223.1 421.60,223.0 421.90,222.9 422.20,222.8 422.50,222.8 422.80,223.1 423.10,223.1 423.40,222.8 423.70,222.7 424.00,222.7 424.30,223.1 424.60,223.0 424.90,223.1 425.20,222.9 425.50,222.8 425.80,223.1 426.10,222.9 426.40,222.9 426.70,223.0 427.00,222.9 427.30,223.1 427.60,223.2 427.90,223.0 428.20,222.9 428.50,222.9 428.80,223.0 429.10,223.0 429.40,223.2 429.70,223.0 430.00,223.2 430.30,223.1 430.60,222.8 430.90,222.9 431.20,222.9 431.50,222.8 431.80,223.1 432.10,223.1 432.40,223.1 432.70,222.9 433.00,222.8 433.30,222.8 433.60,222.9 433.90,223.1 434.20,223.1 434.50,222.8 434.80,223.0 435.10,223.1 435.40,223.2 435.70,223.1 436.00,223.2 436.30,223.4 436.60,223.2 436.90,223.1 437.20,223.1 437.50,223.2 437.80,223.2 438.10,223.2 438.40,223.0 438.70,223.1 439.00,222.9 439.30,223.0 439.60,222.8 439.90,222.9 440.20,223.0 440.50,223.2 440.80,223.1 441.10,223.3 441.40,223.0 441.70,222.7 442.00,222.9 442.30,222.9 442.60,222.9 442.90,223.0 443.20,223.1 443.50,223.2 443.80,223.0 444.10,223.1 444.40,223.1 444.70,223.1 445.00,223.1 445.30,223.1 445.60,223.2 445.90,222.9 446.20,223.1 446.50,222.9 446.80,222.8 447.10,223.0 447.40,223.0 447.70,222.9 448.00,222.7 448.30,222.6 448.60,222.7 448.90,222.6 449.20,222.9 449.50,222.8 449.80,222.8 450.10,222.9 450.40,223.0 450.70,223.2 451.00,223.2 451.30,222.9 451.60,222.8 451.90,222.9 452.20,222.9 452.26,223.0 452.32,222.9 452.38,223.0 452.44,222.9 452.50,222.9 452.56,222.8 452.62,223.0 452.68,223.0 452.74,223.0 452.80,223.2 452.86,222.8 452.92,222.9 452.98,222.8 453.04,222.6 453.10,222.6 453.16,222.1 453.22,221.7 453.28,221.1 453.34,220.2 453.40,219.5 453.46,218.8 453.52,218.8 453.58,219.2 453.64,220.4 453.70,222.0 453.76,223.6 453.82,225.9 453.88,227.5 453.94,228.8 454.00,229.8 454.06,230.1 454.12,229.6 454.18,228.4 454.24,227.3 454.30,226.2 454.36,225.1 454.42,224.5 454.48,224.0 454.54,223.3 454.60,223.2 454.66,223.2 454.72,223.2 454.78,223.2 454.84,223.3 454.90,223.3 454.96,223.1 455.02,223.2 455.08,223.2 455.14,223.1 455.20,223.1 455.26,223.2 455.32,223.2 455.38,223.1 455.44,223.2 455.50,223.1 455.80,223.2 456.10,223.3 456.40,223.2 456.70,222.9 457.00,223.2 457.30,222.9 457.60,222.8 457.90,222.7 458.20,222.8 458.50,222.8 458.80,223.1 458.86,222.9 458.92,222.9 458.98,223.1 459.04,222.8 459.10,222.8 459.16,222.7 459.22,223.0 459.28,222.9 459.34,222.8 459.40,222.7 459.46,222.7 459.52,222.9 459.58,222.8 459.64,222.6 459.70,222.6 459.76,222.5 459.82,222.6 459.88,222.6 459.94,222.3 460.00,221.8 460.06,221.1 460.12,220.8 460.18,220.2 460.24,219.9 460.30,220.1 460.36,220.1 460.42,220.7 460.48,221.3 460.54,221.9 460.60,222.5 460.66,223.1 460.72,223.4 460.78,223.3 460.84,223.6 460.90,223.4 460.96,223.2 461.02,223.2 461.08,223.2 461.14,223.2 461.20,222.9 461.26,222.9 461.32,223.0 461.38,223.0 461.44,222.9 461.50,223.1 461.56,223.3 461.62,223.2 461.68,223.1 461.74,222.9 461.80,222.9 461.86,223.1 461.92,223.0 461.98,223.0 462.04,222.9 462.10,222.9 462.16,223.0 462.22,222.9 462.52,223.2 462.82,223.3 463.12,223.0 463.42,222.8 463.72,222.7 464.02,223.0 464.32,222.9 464.62,222.8 464.92,222.7 465.22,222.9 465.52,222.8 465.82,223.1 466.12,223.0 466.42,223.1 466.72,223.0 467.02,223.1 467.32,222.8 467.62,222.8 467.92,222.7 468.22,222.6 468.52,222.8 468.82,223.1 469.12,222.8 469.42,223.1 469.72,222.9 470.02,222.8 470.32,222.7 470.62,222.7 470.92,222.6 471.22,222.8 471.52,222.9 471.82,222.8 472.12,223.1 472.42,223.1 472.72,223.2 473.02,223.0 473.32,223.1 473.62,223.1 473.92,223.2 474.22,223.0 474.52,223.2 474.82,223.1 475.12,222.8 475.42,223.1 475.72,223.0 476.02,223.2 476.32,223.0 476.62,222.8 476.92,222.9 476.98,223.0 477.04,223.1 477.10,223.1 477.16,223.0 477.22,223.1 477.28,223.1 477.34,222.9 477.40,223.0 477.46,222.9 477.52,223.0 477.58,222.9 477.64,222.9 477.70,222.9 477.76,223.2 477.82,223.1 477.88,223.4 477.94,223.6 478.00,224.0 478.06,224.0 478.12,224.2 478.18,224.4 478.24,224.3 478.30,224.4 478.36,224.1 478.42,223.9 478.48,223.6 478.54,223.3 478.60,223.0 478.66,223.2 478.72,223.2 478.78,223.3 478.84,223.1 478.90,222.9 478.96,223.0 479.02,223.2 479.08,223.2 479.14,223.0 479.20,223.0 479.26,223.2 479.32,223.3 479.38,223.2 479.44,223.2 479.50,222.9 479.56,222.8 479.62,222.6 479.68,222.8 479.74,222.9 480.04,222.7 480.34,223.0 480.64,223.0 480.94,223.1 481.24,223.3 481.54,223.3 481.84,223.3 482.14,223.2 482.44,223.1 482.74,223.2 483.04,223.3 483.34,223.0 483.64,223.2 483.94,222.9 484.24,223.0 484.54,223.2 484.84,223.0 485.14,223.2 485.44,223.1 485.74,223.2 486.04,222.9 486.34,222.7 486.64,222.7 486.94,222.9 487.24,223.1 487.54,223.1 487.84,223.1 488.14,223.0 488.44,223.0 488.74,223.1 489.04,223.2 489.34,223.1 489.64,223.1 489.94,223.0 490.24,222.9 490.54,222.7 490.84,222.8 491.14,222.9 491.44,223.0 491.74,223.0 492.04,223.1 492.34,223.0 492.64,223.1 492.94,223.1 493.24,223.3 493.54,223.1 493.84,223.0 494.14,223.1 494.44,223.0 494.74,223.1 495.04,223.0 495.34,222.8 495.64,222.9 495.94,223.0 496.24,222.9 496.54,222.8 496.84,223.2 497.14,223.1 497.44,223.2 497.74,223.0 498.04,223.0 498.34,222.9 498.64,222.8 498.94,223.1 499.24,223.1 499.54,223.0 499.84,222.9 500.14,223.0 500.44,222.8 500.74,222.9 501.04,223.2 501.34,223.2 501.64,223.1 501.94,222.9 502.24,222.9 502.54,223.0 502.84,223.1 503.14,223.2 503.44,223.0 503.74,222.8 504.04,223.1 504.34,223.1 504.64,223.2 504.94,223.2 505.24,223.3 505.54,223.2 505.84,223.2 506.14,223.2 506.44,223.3 506.74,223.3 507.04,223.4 507.34,223.2 507.64,223.0 507.94,222.8 508.24,222.9 508.54,223.0 508.84,223.1 509.14,223.0 509.44,223.2 509.74,223.1 510.04,222.8 510.34,222.9 510.64,223.0 510.94,222.9 511.24,223.1 511.54,222.9 511.84,223.1 512.14,223.0 512.44,223.3 512.74,223.2 513.04,223.2 513.34,223.0 513.64,223.2 513.94,223.3 514.24,223.0 514.54,223.0 514.84,222.9 515.14,223.1 515.44,223.2 515.74,223.3 516.04,223.3 516.34,223.1 516.64,223.1 516.94,222.9 517.24,222.7 517.54,222.9 517.84,223.1 518.14,222.9 518.44,222.7 518.74,222.6 519.04,222.7 519.34,222.8 519.64,223.1 519.94,223.1 520.24,223.3 520.54,223.3 520.84,223.3 521.14,223.3 521.44,223.0 521.74,223.1 522.04,223.1 522.34,223.1 522.64,223.1 522.94,223.0 523.24,223.2 523.54,223.2 523.84,223.0 524.14,223.2 524.44,223.1 524.74,222.8 525.04,223.1 525.34,223.2 525.64,223.1 525.94,223.0 526.24,222.9 526.54,222.8 526.84,222.9 527.14,222.9 527.44,223.0 527.74,223.1 528.04,222.9 528.34,223.1 528.64,223.0 528.94,223.0 529.24,222.8 529.54,223.0 529.84,223.1 530.14,223.2 530.44,223.3 530.74,223.1 531.04,223.1 531.34,223.1 531.64,223.0 531.94,222.8 532.24,223.0 532.54,223.2 532.84,223.1 533.14,223.3 533.44,222.9 533.74,223.0 534.04,222.9 534.34,223.0 534.64,223.0 534.94,223.1 535.24,222.9 535.54,222.8 535.84,222.9 536.14,222.9 536.44,222.9 536.74,223.2 537.04,223.1 537.34,223.1 537.64,222.9 537.94,222.9 538.24,223.1 538.54,223.2 538.84,223.3 539.14,223.2 539.44,223.1 539.74,223.2 540.04,223.4 540.34,223.4 540.64,223.0 540.94,223.1 541.24,222.9 541.54,222.8 541.84,223.0 542.14,223.2 542.44,223.2 542.74,223.0 542.80,223.0 542.86,222.9 542.92,222.8 542.98,222.8 543.04,223.1 543.10,223.3 543.16,223.0 543.22,223.2 543.28,223.2 543.34,223.2 543.40,223.0 543.46,223.0 543.52,223.2 543.58,223.2 543.64,223.3 543.70,222.9 543.76,222.8 543.82,222.6 543.88,222.5 543.94,222.6 544.00,222.6 544.06,222.4 544.12,222.2 544.18,222.2 544.24,222.3 544.30,222.2 544.36,222.5 544.42,223.1 544.48,223.2 544.54,223.5 544.60,223.8 544.66,224.2 544.72,224.2 544.78,223.9 544.84,223.8 544.90,223.8 544.96,223.6 545.02,223.2 545.08,223.3 545.14,223.0 545.20,222.8 545.26,222.9 545.32,223.1 545.38,223.1 545.44,222.8 545.50,222.7 545.56,222.9 545.62,223.0 545.68,222.7 545.74,222.9 545.80,222.7 545.86,222.8 545.92,223.0 545.98,222.9 546.04,222.9 546.10,223.0 546.16,222.9 546.22,223.0 546.52,222.8 546.82,223.0 547.12,222.9 547.42,222.9 547.72,223.2 548.02,223.2 548.32,223.0 548.62,223.1 548.92,223.0 549.22,223.0 549.52,222.9 549.82,222.8 550.12,223.1 550.42,223.0 550.72,222.9 551.02,223.1 551.32,222.8 551.38,222.9 551.44,222.7 551.50,222.6 551.56,223.0 551.62,223.0 551.68,223.1 551.74,222.9 551.80,222.9 551.86,222.7 551.92,223.0 551.98,222.8 552.04,223.1 552.10,223.3 552.16,223.0 552.22,222.8 552.28,222.7 552.34,222.5 552.40,222.5 552.46,222.5 552.52,222.6 552.58,222.4 552.64,222.1 552.70,222.1 552.76,222.0 552.82,222.0 552.88,222.2 552.94,222.6 553.00,222.5 553.06,222.9 553.12,223.1 553.18,223.3 553.24,223.2 553.30,223.0 553.36,223.2 553.42,222.9 553.48,223.0 553.54,223.1 553.60,223.1 553.66,223.2 553.72,222.9 553.78,223.1 553.84,222.9 553.90,222.9 553.96,223.0 554.02,223.2 554.08,222.9 554.14,222.8 554.20,223.1 554.26,222.9 554.56,222.9 554.86,222.8 555.16,223.1 555.46,223.2 555.76,223.1 556.06,223.3 556.36,223.3 556.66,223.1 556.96,222.8 557.26,223.0 557.56,223.1 557.86,222.9 558.16,222.7 558.46,222.7 558.76,223.1 559.06,223.1 559.36,223.2 559.66,223.2 559.96,223.0 560.26,223.2 560.56,223.1 560.86,223.3 561.16,223.2 561.46,223.2 561.76,223.3 562.06,223.4 562.36,223.3 562.66,223.4 562.96,223.2 563.26,223.0 563.56,222.9 563.86,222.9 564.16,223.1 564.46,223.0 564.76,222.9 565.06,222.7 565.36,223.0 565.66,223.2 565.96,223.1 566.26,222.9 566.56,223.1 566.86,223.2 567.16,223.1 567.46,223.0 567.76,222.9 568.06,223.0 568.36,223.1 568.66,223.3 568.96,223.1 569.26,223.3 569.56,223.2 569.86,223.1 570.16,223.2 570.46,223.0 570.76,223.0 571.06,223.2 571.36,223.3 571.66,223.3 571.96,223.2 572.26,223.2 572.56,223.2 572.86,223.0 573.16,223.2 573.46,223.3 573.76,223.1 574.06,223.1 574.36,223.3 574.66,222.9 574.96,222.8 575.26,223.1 575.56,222.8 575.86,223.0 576.16,222.9 576.46,222.8 576.76,222.7 577.06,222.7 577.36,222.8 577.66,223.0 577.96,223.1 578.26,223.1 578.56,222.9 578.86,223.0 579.16,223.2 579.46,223.0 579.76,223.1 580.06,222.9 580.36,222.8 580.66,222.9 580.96,223.1 581.26,223.1 581.56,222.9 581.86,223.0 582.16,222.8 582.46,223.0 582.76,223.0 583.06,222.9 583.36,223.0 583.66,222.9 583.96,223.0 584.26,223.0 584.56,223.2 584.86,222.9 585.16,223.2 585.46,223.3 585.76,223.0 586.06,223.2 586.36,223.0 586.66,223.2 586.96,223.0 587.26,223.2 587.56,223.3 587.86,223.2 588.16,223.2 588.46,223.2 588.76,223.2 589.06,223.0 589.36,223.1 589.66,223.3 589.96,223.2 590.26,223.3 590.56,223.1 590.86,223.0 591.16,223.1 591.46,223.0 591.76,223.1 592.06,223.2 592.36,223.0 592.66,222.9 592.96,223.2 593.26,223.1 593.56,222.8 593.86,223.1 594.16,222.9 594.46,222.9 594.76,223.2 595.06,223.2 595.36,223.2 595.66,222.9 595.96,222.8 596.26,222.7 596.56,223.1 596.86,222.9 597.16,222.8 597.46,223.0 597.76,223.1 598.06,223.2 598.36,223.1 598.66,223.3 598.96,223.2 599.26,222.9 599.56,223.1 599.86,222.8 600.16,223.1 600.46,223.1 600.76,223.1 601.06,222.9 601.36,223.1 601.66,223.0 601.96,223.0 602.26,222.8 602.56,223.0 602.86,223.2 603.16,223.1 603.46,223.2 603.76,223.2 604.06,223.1 604.36,223.2 604.66,223.0 604.96,222.9 605.26,223.1 605.56,223.2 605.86,223.3 606.16,223.3 606.46,223.2 606.76,223.2 607.06,223.0 607.36,223.1 607.66,223.2 607.96,223.0 608.26,222.9 608.56,222.9 608.86,223.1 609.16,222.8 609.46,222.7 609.76,223.1 610.06,223.2 610.36,223.0 610.66,222.9 610.96,222.7 611.26,222.6 611.56,223.0 611.86,222.8 612.16,223.1 612.46,222.9 612.76,223.1 613.06,222.9 613.36,223.1 613.66,223.2 613.96,223.1 614.26,222.9 614.56,223.0 614.86,222.8 615.16,223.2 615.46,223.1 615.76,223.1 616.06,222.9 616.36,222.9 616.66,223.2 616.96,223.3 617.26,223.3 617.56,223.4 617.86,223.5 618.16,223.0 618.46,222.9 618.76,222.7 619.06,223.0 619.36,222.8 619.66,223.1 619.96,222.9 620.26,222.8 620.56,222.8 620.86,223.1 621.16,222.9 621.46,222.8 621.76,223.0 622.06,222.9 622.36,223.0 622.66,223.0 622.96,223.1 623.26,223.0 623.56,222.9 623.86,222.8 624.16,223.0 624.46,222.9 624.76,222.8 625.06,222.9 625.36,223.2 625.66,223.0 625.96,222.9 626.26,222.9 626.56,222.9 626.86,223.2 627.16,223.1 627.46,223.1 627.76,223.0 628.06,222.9 628.36,222.9 628.66,223.1 628.96,223.3 629.26,223.3 629.56,223.0 629.86,223.2 630.16,223.0 630.46,222.9 630.76,222.9 631.06,222.8 631.36,222.9 631.66,223.2 631.96,222.9 632.26,223.2 632.56,223.1 632.86,222.9 633.16,223.0 633.46,222.8 633.76,222.8 634.06,223.0 634.36,222.9 634.66,223.1 634.96,222.9 635.26,223.1 635.56,223.2 635.86,223.1 636.16,223.0 636.46,222.9 636.76,222.7 637.06,222.9 637.36,222.8 637.66,223.1 637.96,222.9 638.26,222.7 638.56,222.8 638.86,222.9 639.16,223.1 639.46,223.1 639.76,222.9 640.06,222.8 640.36,222.9 640.66,222.8 640.96,223.0 641.26,223.1 641.56,223.2 641.86,223.1 642.16,223.0 642.46,223.1 642.76,222.9 643.06,223.1 643.36,223.1 643.66,223.1 643.96,222.9 644.26,222.8 644.56,222.7 644.86,222.8 645.16,222.8 645.46,223.1 645.76,223.0 646.06,223.1 646.36,223.0 646.66,223.0 646.96,222.8 647.26,223.0 647.56,223.0 647.86,222.8 648.16,223.0 648.46,222.8 648.76,223.1 649.06,223.1 649.36,223.2 649.66,223.1 649.96,222.9 650.26,222.9 650.56,222.8 650.86,222.9 651.16,222.7 651.46,222.9 651.76,223.1 652.06,223.1 652.36,223.0 652.66,223.1 652.96,223.0 653.26,223.2 653.56,223.3 653.86,223.1 654.16,223.2 654.46,223.0 654.76,223.2 655.06,223.2 655.36,222.9 655.66,223.0 655.96,222.9 656.26,223.0 656.56,222.8 656.86,222.8 656.92,223.1 656.98,223.1 657.04,223.1 657.10,223.1 657.16,222.9 657.22,222.8 657.28,222.8 657.34,222.8 657.40,222.9 657.46,223.0 657.52,222.8 657.58,222.9 657.64,223.2 657.70,223.4 657.76,223.6 657.82,223.4 657.88,223.7 657.94,223.7 658.00,223.8 658.06,224.0 658.12,224.4 658.18,224.4 658.24,224.3 658.30,224.1 658.36,224.0 658.42,224.1 658.48,223.8 658.54,223.6 658.60,223.3 658.66,223.1 658.72,222.9 658.78,223.1 658.84,223.3 658.90,223.1 658.96,223.1 659.02,223.0 659.08,223.1 659.14,222.9 659.20,222.9 659.26,223.0 659.32,222.9 659.38,223.2 659.44,223.1 659.50,222.8 659.56,222.9 659.62,223.1 659.68,222.9 659.74,222.9 660.04,223.0 660.34,223.2 660.64,222.9 660.94,223.0 661.24,222.8 661.54,223.0 661.84,223.2 662.14,223.2 662.44,222.9 662.74,222.8 663.04,222.9 663.34,223.1 663.64,223.0 663.94,222.9 664.24,223.1 664.54,223.2 664.84,223.3 665.14,223.2 665.44,223.3 665.74,223.3 666.04,223.0 666.34,222.8 666.64,223.0 666.94,223.1 667.24,223.2 667.54,223.3 667.84,223.0 668.14,222.9 668.44,223.1 668.74,223.1 669.04,223.2 669.34,223.3 669.64,222.9 669.94,222.8 670.24,222.7 670.54,222.7 670.84,222.8 671.14,223.1 671.44,222.9 671.74,222.9 672.04,222.9 672.34,223.2 672.64,223.2 672.94,223.1 673.24,222.8 673.54,222.8 673.84,222.7 674.14,223.1 674.44,222.9 674.74,222.8 675.04,222.7 675.34,222.6 675.64,222.9 675.94,222.9 676.24,223.0" fill="none" stroke="#2626ee" stroke-width="1.15"/>
</g>
<text transform="translate(381.12,207.30) rotate(-90)" font-size="6.4" textLength="16.4" lengthAdjust="spacingAndGlyphs" fill="#1e1e1e">(110)</text>
<text transform="translate(394.02,206.70) rotate(-90)" font-size="6.4" textLength="16.4" lengthAdjust="spacingAndGlyphs" fill="#1e1e1e">(111)</text>
<text transform="translate(418.42,197.60) rotate(-90)" font-size="6.4" textLength="16.4" lengthAdjust="spacingAndGlyphs" fill="#1e1e1e">(112)</text>
<text transform="translate(442.02,202.50) rotate(-90)" font-size="6.4" textLength="16.4" lengthAdjust="spacingAndGlyphs" fill="#1e1e1e">(311)</text>
<text transform="translate(455.52,68.20) rotate(-90)" font-size="6.4" textLength="16.4" lengthAdjust="spacingAndGlyphs" fill="#1e1e1e">(221)</text>
<text transform="translate(462.22,150.20) rotate(-90)" font-size="6.4" textLength="16.4" lengthAdjust="spacingAndGlyphs" fill="#1e1e1e">(004)</text>
<text transform="translate(478.92,183.70) rotate(-90)" font-size="6.4" textLength="16.4" lengthAdjust="spacingAndGlyphs" fill="#1e1e1e">(223)</text>
<line x1="473.29" y1="173.25" x2="473.29" y2="169.94" stroke="#333" stroke-width="0.55"/>
<text transform="translate(494.82,199.50) rotate(-90)" font-size="6.4" textLength="16.4" lengthAdjust="spacingAndGlyphs" fill="#1e1e1e">(223)</text>
<text transform="translate(545.22,166.80) rotate(-90)" font-size="6.4" textLength="16.4" lengthAdjust="spacingAndGlyphs" fill="#1e1e1e">(621)</text>
<line x1="539.59" y1="164.16" x2="539.59" y2="160.85" stroke="#333" stroke-width="0.55"/>
<text transform="translate(554.12,180.40) rotate(-90)" font-size="6.4" textLength="16.4" lengthAdjust="spacingAndGlyphs" fill="#1e1e1e">(225)</text>
<text transform="translate(594.02,199.10) rotate(-90)" font-size="6.4" textLength="16.4" lengthAdjust="spacingAndGlyphs" fill="#1e1e1e">(823)</text>
<line x1="588.39" y1="196.46" x2="588.39" y2="193.15" stroke="#333" stroke-width="0.55"/>
<rect x="29.0" y="5.0" width="315.8" height="232.4" fill="none" stroke="#3a3a3a" stroke-width="1.5"/>
<line x1="29.00" y1="237.45" x2="29.00" y2="241.45" stroke="#3a3a3a" stroke-width="1.4"/>
<text x="29.30" y="253.0" font-size="10.4" text-anchor="middle" fill="#222">10</text>
<line x1="38.02" y1="237.45" x2="38.02" y2="239.55" stroke="#3a3a3a" stroke-width="1.2"/>
<line x1="47.05" y1="237.45" x2="47.05" y2="239.55" stroke="#3a3a3a" stroke-width="1.2"/>
<line x1="56.07" y1="237.45" x2="56.07" y2="239.55" stroke="#3a3a3a" stroke-width="1.2"/>
<line x1="65.09" y1="237.45" x2="65.09" y2="239.55" stroke="#3a3a3a" stroke-width="1.2"/>
<line x1="74.11" y1="237.45" x2="74.11" y2="241.45" stroke="#3a3a3a" stroke-width="1.4"/>
<text x="74.41" y="253.0" font-size="10.4" text-anchor="middle" fill="#222">20</text>
<line x1="83.14" y1="237.45" x2="83.14" y2="239.55" stroke="#3a3a3a" stroke-width="1.2"/>
<line x1="92.16" y1="237.45" x2="92.16" y2="239.55" stroke="#3a3a3a" stroke-width="1.2"/>
<line x1="101.18" y1="237.45" x2="101.18" y2="239.55" stroke="#3a3a3a" stroke-width="1.2"/>
<line x1="110.21" y1="237.45" x2="110.21" y2="239.55" stroke="#3a3a3a" stroke-width="1.2"/>
<line x1="119.23" y1="237.45" x2="119.23" y2="241.45" stroke="#3a3a3a" stroke-width="1.4"/>
<text x="119.53" y="253.0" font-size="10.4" text-anchor="middle" fill="#222">30</text>
<line x1="128.25" y1="237.45" x2="128.25" y2="239.55" stroke="#3a3a3a" stroke-width="1.2"/>
<line x1="137.27" y1="237.45" x2="137.27" y2="239.55" stroke="#3a3a3a" stroke-width="1.2"/>
<line x1="146.30" y1="237.45" x2="146.30" y2="239.55" stroke="#3a3a3a" stroke-width="1.2"/>
<line x1="155.32" y1="237.45" x2="155.32" y2="239.55" stroke="#3a3a3a" stroke-width="1.2"/>
<line x1="164.34" y1="237.45" x2="164.34" y2="241.45" stroke="#3a3a3a" stroke-width="1.4"/>
<text x="164.64" y="253.0" font-size="10.4" text-anchor="middle" fill="#222">40</text>
<line x1="173.37" y1="237.45" x2="173.37" y2="239.55" stroke="#3a3a3a" stroke-width="1.2"/>
<line x1="182.39" y1="237.45" x2="182.39" y2="239.55" stroke="#3a3a3a" stroke-width="1.2"/>
<line x1="191.41" y1="237.45" x2="191.41" y2="239.55" stroke="#3a3a3a" stroke-width="1.2"/>
<line x1="200.43" y1="237.45" x2="200.43" y2="239.55" stroke="#3a3a3a" stroke-width="1.2"/>
<line x1="209.46" y1="237.45" x2="209.46" y2="241.45" stroke="#3a3a3a" stroke-width="1.4"/>
<text x="209.76" y="253.0" font-size="10.4" text-anchor="middle" fill="#222">50</text>
<line x1="218.48" y1="237.45" x2="218.48" y2="239.55" stroke="#3a3a3a" stroke-width="1.2"/>
<line x1="227.50" y1="237.45" x2="227.50" y2="239.55" stroke="#3a3a3a" stroke-width="1.2"/>
<line x1="236.53" y1="237.45" x2="236.53" y2="239.55" stroke="#3a3a3a" stroke-width="1.2"/>
<line x1="245.55" y1="237.45" x2="245.55" y2="239.55" stroke="#3a3a3a" stroke-width="1.2"/>
<line x1="254.57" y1="237.45" x2="254.57" y2="241.45" stroke="#3a3a3a" stroke-width="1.4"/>
<text x="254.87" y="253.0" font-size="10.4" text-anchor="middle" fill="#222">60</text>
<line x1="263.59" y1="237.45" x2="263.59" y2="239.55" stroke="#3a3a3a" stroke-width="1.2"/>
<line x1="272.62" y1="237.45" x2="272.62" y2="239.55" stroke="#3a3a3a" stroke-width="1.2"/>
<line x1="281.64" y1="237.45" x2="281.64" y2="239.55" stroke="#3a3a3a" stroke-width="1.2"/>
<line x1="290.66" y1="237.45" x2="290.66" y2="239.55" stroke="#3a3a3a" stroke-width="1.2"/>
<line x1="299.69" y1="237.45" x2="299.69" y2="241.45" stroke="#3a3a3a" stroke-width="1.4"/>
<text x="299.99" y="253.0" font-size="10.4" text-anchor="middle" fill="#222">70</text>
<line x1="308.71" y1="237.45" x2="308.71" y2="239.55" stroke="#3a3a3a" stroke-width="1.2"/>
<line x1="317.73" y1="237.45" x2="317.73" y2="239.55" stroke="#3a3a3a" stroke-width="1.2"/>
<line x1="326.75" y1="237.45" x2="326.75" y2="239.55" stroke="#3a3a3a" stroke-width="1.2"/>
<line x1="335.78" y1="237.45" x2="335.78" y2="239.55" stroke="#3a3a3a" stroke-width="1.2"/>
<line x1="344.80" y1="237.45" x2="344.80" y2="241.45" stroke="#3a3a3a" stroke-width="1.4"/>
<text x="345.10" y="253.0" font-size="10.4" text-anchor="middle" fill="#222">80</text>
<text x="187.10" y="272.2" font-size="12.4" textLength="27.6" lengthAdjust="spacingAndGlyphs" text-anchor="middle" fill="#111" stroke="#111" stroke-width="0.2">2&#952; (&#176;)</text>
<text x="35.50" y="19.7" font-size="12.3" textLength="45.9" lengthAdjust="spacing" fill="#111">x = 0.10</text>
<circle cx="293.60" cy="17.35" r="3.95" fill="none" stroke="#3c3c3c" stroke-width="1.0"/>
<text x="303.60" y="21.8" font-size="12.3" fill="#111">Raw</text>
<line x1="294.00" y1="28.3" x2="294.00" y2="43.4" stroke="#ec1c24" stroke-width="1.5"/>
<text x="303.60" y="40.4" font-size="12.3" fill="#111">Fit</text>
<line x1="294.00" y1="49.3" x2="294.00" y2="63.7" stroke="#2a3af0" stroke-width="1.5"/>
<text x="303.60" y="60.2" font-size="12.3" fill="#111">Diff.</text>
<rect x="361.0" y="5.0" width="315.3" height="232.4" fill="none" stroke="#3a3a3a" stroke-width="1.5"/>
<line x1="361.00" y1="237.45" x2="361.00" y2="241.45" stroke="#3a3a3a" stroke-width="1.4"/>
<text x="361.30" y="253.0" font-size="10.4" text-anchor="middle" fill="#222">10</text>
<line x1="370.01" y1="237.45" x2="370.01" y2="239.55" stroke="#3a3a3a" stroke-width="1.2"/>
<line x1="379.02" y1="237.45" x2="379.02" y2="239.55" stroke="#3a3a3a" stroke-width="1.2"/>
<line x1="388.03" y1="237.45" x2="388.03" y2="239.55" stroke="#3a3a3a" stroke-width="1.2"/>
<line x1="397.03" y1="237.45" x2="397.03" y2="239.55" stroke="#3a3a3a" stroke-width="1.2"/>
<line x1="406.04" y1="237.45" x2="406.04" y2="241.45" stroke="#3a3a3a" stroke-width="1.4"/>
<text x="406.34" y="253.0" font-size="10.4" text-anchor="middle" fill="#222">20</text>
<line x1="415.05" y1="237.45" x2="415.05" y2="239.55" stroke="#3a3a3a" stroke-width="1.2"/>
<line x1="424.06" y1="237.45" x2="424.06" y2="239.55" stroke="#3a3a3a" stroke-width="1.2"/>
<line x1="433.07" y1="237.45" x2="433.07" y2="239.55" stroke="#3a3a3a" stroke-width="1.2"/>
<line x1="442.08" y1="237.45" x2="442.08" y2="239.55" stroke="#3a3a3a" stroke-width="1.2"/>
<line x1="451.09" y1="237.45" x2="451.09" y2="241.45" stroke="#3a3a3a" stroke-width="1.4"/>
<text x="451.39" y="253.0" font-size="10.4" text-anchor="middle" fill="#222">30</text>
<line x1="460.09" y1="237.45" x2="460.09" y2="239.55" stroke="#3a3a3a" stroke-width="1.2"/>
<line x1="469.10" y1="237.45" x2="469.10" y2="239.55" stroke="#3a3a3a" stroke-width="1.2"/>
<line x1="478.11" y1="237.45" x2="478.11" y2="239.55" stroke="#3a3a3a" stroke-width="1.2"/>
<line x1="487.12" y1="237.45" x2="487.12" y2="239.55" stroke="#3a3a3a" stroke-width="1.2"/>
<line x1="496.13" y1="237.45" x2="496.13" y2="241.45" stroke="#3a3a3a" stroke-width="1.4"/>
<text x="496.43" y="253.0" font-size="10.4" text-anchor="middle" fill="#222">40</text>
<line x1="505.14" y1="237.45" x2="505.14" y2="239.55" stroke="#3a3a3a" stroke-width="1.2"/>
<line x1="514.15" y1="237.45" x2="514.15" y2="239.55" stroke="#3a3a3a" stroke-width="1.2"/>
<line x1="523.15" y1="237.45" x2="523.15" y2="239.55" stroke="#3a3a3a" stroke-width="1.2"/>
<line x1="532.16" y1="237.45" x2="532.16" y2="239.55" stroke="#3a3a3a" stroke-width="1.2"/>
<line x1="541.17" y1="237.45" x2="541.17" y2="241.45" stroke="#3a3a3a" stroke-width="1.4"/>
<text x="541.47" y="253.0" font-size="10.4" text-anchor="middle" fill="#222">50</text>
<line x1="550.18" y1="237.45" x2="550.18" y2="239.55" stroke="#3a3a3a" stroke-width="1.2"/>
<line x1="559.19" y1="237.45" x2="559.19" y2="239.55" stroke="#3a3a3a" stroke-width="1.2"/>
<line x1="568.20" y1="237.45" x2="568.20" y2="239.55" stroke="#3a3a3a" stroke-width="1.2"/>
<line x1="577.21" y1="237.45" x2="577.21" y2="239.55" stroke="#3a3a3a" stroke-width="1.2"/>
<line x1="586.21" y1="237.45" x2="586.21" y2="241.45" stroke="#3a3a3a" stroke-width="1.4"/>
<text x="586.51" y="253.0" font-size="10.4" text-anchor="middle" fill="#222">60</text>
<line x1="595.22" y1="237.45" x2="595.22" y2="239.55" stroke="#3a3a3a" stroke-width="1.2"/>
<line x1="604.23" y1="237.45" x2="604.23" y2="239.55" stroke="#3a3a3a" stroke-width="1.2"/>
<line x1="613.24" y1="237.45" x2="613.24" y2="239.55" stroke="#3a3a3a" stroke-width="1.2"/>
<line x1="622.25" y1="237.45" x2="622.25" y2="239.55" stroke="#3a3a3a" stroke-width="1.2"/>
<line x1="631.26" y1="237.45" x2="631.26" y2="241.45" stroke="#3a3a3a" stroke-width="1.4"/>
<text x="631.56" y="253.0" font-size="10.4" text-anchor="middle" fill="#222">70</text>
<line x1="640.27" y1="237.45" x2="640.27" y2="239.55" stroke="#3a3a3a" stroke-width="1.2"/>
<line x1="649.27" y1="237.45" x2="649.27" y2="239.55" stroke="#3a3a3a" stroke-width="1.2"/>
<line x1="658.28" y1="237.45" x2="658.28" y2="239.55" stroke="#3a3a3a" stroke-width="1.2"/>
<line x1="667.29" y1="237.45" x2="667.29" y2="239.55" stroke="#3a3a3a" stroke-width="1.2"/>
<line x1="676.30" y1="237.45" x2="676.30" y2="241.45" stroke="#3a3a3a" stroke-width="1.4"/>
<text x="676.60" y="253.0" font-size="10.4" text-anchor="middle" fill="#222">80</text>
<text x="518.85" y="272.2" font-size="12.4" textLength="27.6" lengthAdjust="spacingAndGlyphs" text-anchor="middle" fill="#111" stroke="#111" stroke-width="0.2">2&#952; (&#176;)</text>
<text x="367.30" y="19.7" font-size="12.3" textLength="45.9" lengthAdjust="spacing" fill="#111">x = 0.20</text>
<circle cx="629.90" cy="17.35" r="3.95" fill="none" stroke="#3c3c3c" stroke-width="1.0"/>
<text x="639.40" y="21.8" font-size="12.3" fill="#111">Raw</text>
<line x1="630.30" y1="28.3" x2="630.30" y2="43.4" stroke="#ec1c24" stroke-width="1.5"/>
<text x="639.40" y="40.4" font-size="12.3" fill="#111">Fit</text>
<line x1="630.30" y1="49.3" x2="630.30" y2="63.7" stroke="#2a3af0" stroke-width="1.5"/>
<text x="639.40" y="60.2" font-size="12.3" fill="#111">Diff.</text>
<text transform="translate(14.3,120.9) rotate(-90)" font-size="11.8" text-anchor="middle" fill="#222">Intensity (a.u.)</text>
</svg>
</body></html>
